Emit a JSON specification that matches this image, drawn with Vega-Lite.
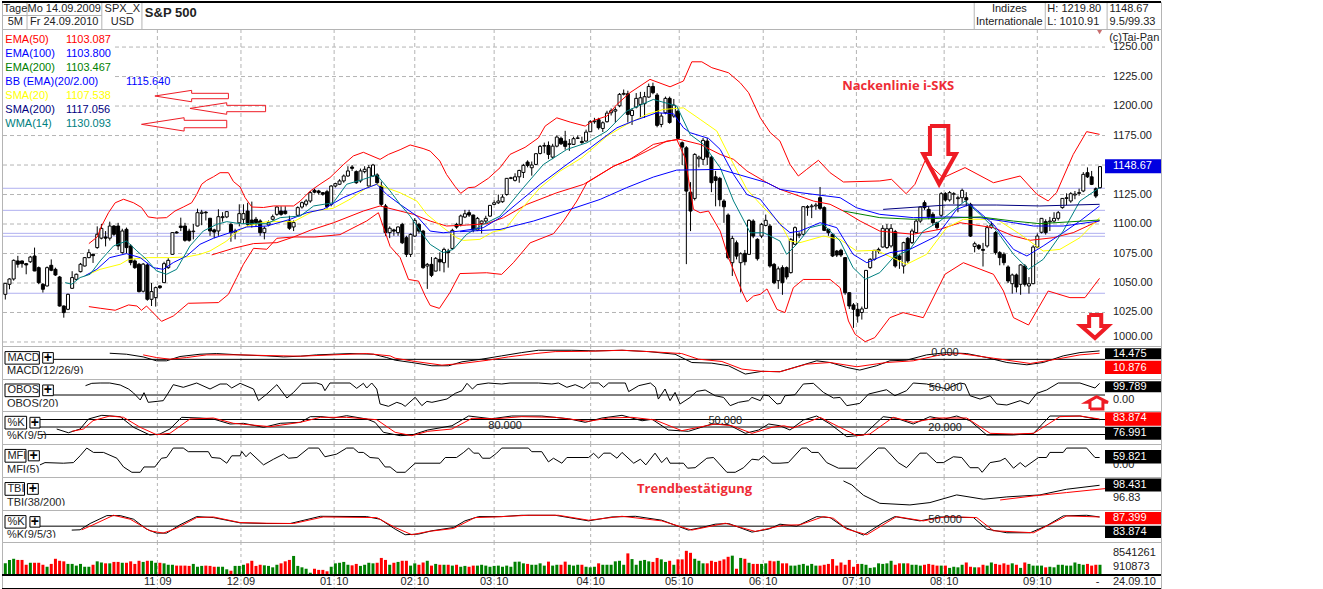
{
"$schema":"https://vega.github.io/schema/vega-lite/v6.json",
"background":"white",
"padding":0,
"spacing":0,
"bounds":"flush",
"resolve":{"scale":{"color":"independent","fill":"independent"}},
"config":{"view":{"stroke":"#b4b4b4"},"text":{"font":"Liberation Sans","fontSize":11,"align":"left","baseline":"middle","color":"#222"},"concat":{"spacing":0}},
"datasets":{
"months":[{"i":36.4,"a":"11","b":"09"},{"i":56.4,"a":"12","b":"09"},{"i":78.7,"a":"01","b":"10"},{"i":98,"a":"02","b":"10"},{"i":117,"a":"03","b":"10"},{"i":140.1,"a":"04","b":"10"},{"i":161.3,"a":"05","b":"10"},{"i":181.4,"a":"06","b":"10"},{"i":203.7,"a":"07","b":"10"},{"i":224.7,"a":"08","b":"10"},{"i":247,"a":"09","b":"10"}],
"c":[
{"i":0,"o":1040.4,"h":1050,"l":1036,"c":1049.7,"m":4.1},{"i":1,"o":1048.9,"h":1054,"l":1044.7,"c":1053.4,"m":5.3},{"i":2,"o":1053.4,"h":1070,"l":1052,"c":1069.2,"m":5.7},{"i":3,"o":1068.7,"h":1073,"l":1063,"c":1065.9,"m":5.3},{"i":4,"o":1068.7,"h":1069,"l":1063,"c":1066.4,"m":5.3},{"i":5,"o":1066.4,"h":1067,"l":1057.4,"c":1065.3,"m":3.6},{"i":6,"o":1068,"h":1073,"l":1067,"c":1072,"m":4.3},{"i":7,"o":1072.9,"h":1080,"l":1060,"c":1060.2,"m":4.3},{"i":8,"o":1063,"h":1064,"l":1049,"c":1050.3,"m":4.3},{"i":9,"o":1048.9,"h":1050,"l":1041.9,"c":1044.7,"m":3.6},
{"i":10,"o":1047.5,"h":1064,"l":1047,"c":1063,"m":2.9},{"i":11,"o":1065,"h":1070,"l":1060,"c":1060.8,"m":3.9},{"i":12,"o":1061.6,"h":1063,"l":1056,"c":1056.8,"m":5.7},{"i":13,"o":1055.1,"h":1056,"l":1030,"c":1030.5,"m":5},{"i":14,"o":1030.5,"h":1031,"l":1020.6,"c":1024.9,"m":4.8},{"i":15,"o":1027.7,"h":1041,"l":1027,"c":1040.4,"m":3.9},{"i":16,"o":1045.5,"h":1060,"l":1045,"c":1054.6,"m":3.9},{"i":17,"o":1053.1,"h":1058,"l":1052,"c":1057.4,"m":3.3},{"i":18,"o":1059.6,"h":1067,"l":1059,"c":1065.9,"m":3.9},{"i":19,"o":1064.4,"h":1072,"l":1064,"c":1071.5,"m":2.9},
{"i":20,"o":1071.5,"h":1078.6,"l":1071,"c":1075.7,"m":2.9},{"i":21,"o":1074.3,"h":1075,"l":1067,"c":1073.2,"m":3.6},{"i":22,"o":1080,"h":1098,"l":1079,"c":1091.3,"m":4.8},{"i":23,"o":1088,"h":1100,"l":1087,"c":1096.3,"m":4.4},{"i":24,"o":1089,"h":1094,"l":1081,"c":1088,"m":4.1},{"i":25,"o":1088,"h":1102,"l":1086,"c":1098.3,"m":4.1},{"i":26,"o":1098.3,"h":1099,"l":1090,"c":1091.3,"m":4.6},{"i":27,"o":1098.3,"h":1101,"l":1078,"c":1081.4,"m":4.6},{"i":28,"o":1075.7,"h":1096,"l":1075,"c":1094.1,"m":4.3},{"i":29,"o":1095.5,"h":1097,"l":1075,"c":1080,"m":4.3},
{"i":30,"o":1081.4,"h":1083,"l":1065,"c":1067.3,"m":4.8},{"i":31,"o":1068.7,"h":1070,"l":1062,"c":1063,"m":3.9},{"i":32,"o":1065.9,"h":1067,"l":1042,"c":1042.7,"m":5},{"i":33,"o":1043,"h":1067,"l":1042,"c":1066,"m":4.6},{"i":34,"o":1065.3,"h":1067,"l":1035,"c":1036.2,"m":5},{"i":35,"o":1036.2,"h":1050,"l":1030.5,"c":1042.7,"m":5},{"i":36,"o":1037.6,"h":1047,"l":1030,"c":1046.1,"m":4.3},{"i":37,"o":1047.5,"h":1048,"l":1045,"c":1046.1,"m":4.3},{"i":38,"o":1050.3,"h":1068,"l":1050,"c":1066.4,"m":4.1},{"i":39,"o":1063,"h":1071,"l":1062,"c":1069.2,"m":3.6},
{"i":40,"o":1074.3,"h":1093,"l":1074,"c":1092.7,"m":3.6},{"i":41,"o":1093.2,"h":1094,"l":1092,"c":1092.4,"m":3.3},{"i":42,"o":1098.3,"h":1105.4,"l":1094,"c":1097,"m":3.3},{"i":43,"o":1098.3,"h":1101,"l":1085,"c":1086.2,"m":3.3},{"i":44,"o":1094,"h":1096,"l":1085,"c":1086.2,"m":3.2},{"i":45,"o":1093.5,"h":1100,"l":1087,"c":1094,"m":3.9},{"i":46,"o":1098.3,"h":1113,"l":1098,"c":1109.6,"m":2.9},{"i":47,"o":1109,"h":1112,"l":1099,"c":1110,"m":3.2},{"i":48,"o":1110,"h":1111,"l":1103,"c":1109.5,"m":3.3},{"i":49,"o":1104.9,"h":1105,"l":1090,"c":1094.1,"m":3.2},
{"i":50,"o":1095,"h":1096,"l":1088,"c":1093.2,"m":2.9},{"i":51,"o":1094.1,"h":1112.5,"l":1090,"c":1106.2,"m":2.9},{"i":52,"o":1105.4,"h":1110,"l":1102,"c":1106.2,"m":2.9},{"i":53,"o":1106,"h":1111,"l":1105,"c":1110.5,"m":2},{"i":54,"o":1099.7,"h":1101,"l":1085,"c":1092.7,"m":1.5},{"i":55,"o":1093,"h":1096,"l":1087,"c":1094,"m":3.2},{"i":56,"o":1101,"h":1116.7,"l":1098,"c":1108.8,"m":3.2},{"i":57,"o":1104,"h":1116.7,"l":1100,"c":1108.8,"m":3.6},{"i":58,"o":1111,"h":1118,"l":1098,"c":1099.7,"m":4.1},{"i":59,"o":1103.4,"h":1119,"l":1097,"c":1099.7,"m":5},
{"i":60,"o":1104,"h":1106,"l":1098,"c":1101.2,"m":3.2},{"i":61,"o":1102.6,"h":1104,"l":1090,"c":1092.7,"m":3.6},{"i":62,"o":1092.7,"h":1098,"l":1087,"c":1096.4,"m":3.4},{"i":63,"o":1099.2,"h":1103,"l":1098,"c":1101.2,"m":3.2},{"i":64,"o":1104,"h":1108,"l":1103,"c":1106.2,"m":2.7},{"i":65,"o":1108.2,"h":1115,"l":1107,"c":1114.4,"m":3.6},{"i":66,"o":1111,"h":1115,"l":1107,"c":1108.2,"m":4.1},{"i":67,"o":1111,"h":1115,"l":1108,"c":1108.8,"m":4.8},{"i":68,"o":1102.6,"h":1107,"l":1095,"c":1096.4,"m":5.3},{"i":69,"o":1097.5,"h":1103,"l":1094,"c":1101.2,"m":6.7},
{"i":70,"o":1107.4,"h":1115,"l":1106,"c":1113.9,"m":3.2},{"i":71,"o":1114.4,"h":1119,"l":1113,"c":1118.1,"m":2.7},{"i":72,"o":1116.7,"h":1121,"l":1115,"c":1119.5,"m":2.2},{"i":73,"o":1119.5,"h":1128,"l":1118,"c":1126.6,"m":0.8},{"i":74,"o":1128.6,"h":1130,"l":1126,"c":1127,"m":2.2},{"i":75,"o":1128,"h":1129,"l":1125,"c":1126.6,"m":1.8},{"i":76,"o":1126.6,"h":1127,"l":1124,"c":1125.2,"m":1.8},{"i":77,"o":1127.4,"h":1129,"l":1113,"c":1114.7,"m":1.3},{"i":78,"o":1116.7,"h":1133,"l":1115,"c":1132.2,"m":2.9},{"i":79,"o":1132.2,"h":1135,"l":1131,"c":1134.2,"m":4.1},
{"i":80,"o":1133.7,"h":1138,"l":1133,"c":1136.5,"m":4.3},{"i":81,"o":1136.5,"h":1142,"l":1135,"c":1140.7,"m":4.6},{"i":82,"o":1140.7,"h":1149,"l":1140,"c":1145,"m":3.6},{"i":83,"o":1148.3,"h":1150,"l":1145,"c":1147.2,"m":3.4},{"i":84,"o":1144.4,"h":1145.5,"l":1134,"c":1135,"m":3.9},{"i":85,"o":1136.5,"h":1147,"l":1135,"c":1145,"m":3.2},{"i":86,"o":1144.4,"h":1149,"l":1143,"c":1146.4,"m":3.6},{"i":87,"o":1132.2,"h":1150,"l":1131,"c":1147.8,"m":4.3},{"i":88,"o":1140.7,"h":1151,"l":1140,"c":1150,"m":4.1},{"i":89,"o":1141.6,"h":1143,"l":1134,"c":1135,"m":4.3},
{"i":90,"o":1132.2,"h":1136,"l":1115,"c":1116.7,"m":6},{"i":91,"o":1115.3,"h":1117,"l":1090,"c":1092.7,"m":5.3},{"i":92,"o":1092.7,"h":1098,"l":1088,"c":1096.4,"m":3.6},{"i":93,"o":1095,"h":1096,"l":1090,"c":1094,"m":4.3},{"i":94,"o":1092.7,"h":1098,"l":1090,"c":1097.5,"m":4.6},{"i":95,"o":1099.7,"h":1101,"l":1083,"c":1084.1,"m":5},{"i":96,"o":1088.4,"h":1090,"l":1072,"c":1074.3,"m":5},{"i":97,"o":1074.3,"h":1092,"l":1072,"c":1091.2,"m":3.3},{"i":98,"o":1089.8,"h":1105,"l":1089,"c":1103.1,"m":4.1},{"i":99,"o":1099.7,"h":1101,"l":1092,"c":1094,"m":3.6},
{"i":100,"o":1094,"h":1095,"l":1062,"c":1063,"m":4.4},{"i":101,"o":1064.4,"h":1067,"l":1045,"c":1065.8,"m":5},{"i":102,"o":1065.8,"h":1072,"l":1055,"c":1056.5,"m":3.3},{"i":103,"o":1060.1,"h":1072,"l":1060,"c":1070.9,"m":3.9},{"i":104,"o":1070,"h":1076,"l":1060,"c":1067.8,"m":3.6},{"i":105,"o":1067.2,"h":1080,"l":1059,"c":1078.5,"m":3.6},{"i":106,"o":1077,"h":1079,"l":1063,"c":1075.7,"m":3.6},{"i":107,"o":1079.3,"h":1096,"l":1078,"c":1094.6,"m":3.3},{"i":108,"o":1099.7,"h":1101,"l":1096,"c":1097.4,"m":3.6},{"i":109,"o":1099.7,"h":1108,"l":1098,"c":1106.8,"m":2.9},
{"i":110,"o":1105.9,"h":1112,"l":1105,"c":1108.7,"m":3.2},{"i":111,"o":1109.6,"h":1112,"l":1106,"c":1107.6,"m":2.9},{"i":112,"o":1107.6,"h":1108,"l":1093,"c":1094.9,"m":3.3},{"i":113,"o":1094.9,"h":1106,"l":1094,"c":1104.8,"m":3.3},{"i":114,"o":1100.5,"h":1103,"l":1092,"c":1102.5,"m":3.6},{"i":115,"o":1102.5,"h":1107,"l":1100,"c":1104.8,"m":3.3},{"i":116,"o":1106.7,"h":1116,"l":1106,"c":1115.8,"m":2.9},{"i":117,"o":1116.6,"h":1120,"l":1116,"c":1118,"m":3.2},{"i":118,"o":1118,"h":1125,"l":1117,"c":1119.5,"m":3.3},{"i":119,"o":1118.9,"h":1125,"l":1118,"c":1122.8,"m":2.9},
{"i":120,"o":1125,"h":1139,"l":1124,"c":1138.7,"m":3.3},{"i":121,"o":1138.7,"h":1140,"l":1138,"c":1139.2,"m":2.9},{"i":122,"o":1137,"h":1143,"l":1136,"c":1140,"m":4.7},{"i":123,"o":1140,"h":1146,"l":1135,"c":1145.4,"m":4.7},{"i":124,"o":1143.7,"h":1151,"l":1139,"c":1149.7,"m":4.1},{"i":125,"o":1152.5,"h":1154,"l":1148,"c":1149.7,"m":3.9},{"i":126,"o":1147.7,"h":1153,"l":1141,"c":1150,"m":3.6},{"i":127,"o":1150.5,"h":1160,"l":1150,"c":1159.6,"m":3.6},{"i":128,"o":1159.8,"h":1167,"l":1159,"c":1165.8,"m":4.1},{"i":129,"o":1166,"h":1169,"l":1160,"c":1166.6,"m":3.3},
{"i":130,"o":1166.6,"h":1170,"l":1155,"c":1159,"m":4.7},{"i":131,"o":1156.7,"h":1168,"l":1155,"c":1166,"m":3.3},{"i":132,"o":1166,"h":1175,"l":1165,"c":1173.7,"m":3.6},{"i":133,"o":1172.6,"h":1174,"l":1167,"c":1168,"m":3.6},{"i":134,"o":1170.3,"h":1179,"l":1163,"c":1165.8,"m":4.7},{"i":135,"o":1167.5,"h":1172,"l":1162,"c":1168,"m":3.6},{"i":136,"o":1167.5,"h":1174,"l":1167,"c":1172.3,"m":3.3},{"i":137,"o":1172.6,"h":1175,"l":1172,"c":1173,"m":3.6},{"i":138,"o":1170,"h":1174,"l":1168,"c":1169,"m":3.6},{"i":139,"o":1170.3,"h":1180,"l":1170,"c":1177.9,"m":2.9},
{"i":140,"o":1178.2,"h":1188,"l":1178,"c":1186.7,"m":2.7},{"i":141,"o":1186.7,"h":1190,"l":1185,"c":1187.3,"m":2.9},{"i":142,"o":1188.4,"h":1190,"l":1180,"c":1181.6,"m":4.1},{"i":143,"o":1181,"h":1187,"l":1178,"c":1185.8,"m":3.6},{"i":144,"o":1186.7,"h":1196,"l":1186,"c":1194,"m":3.6},{"i":145,"o":1194.3,"h":1198,"l":1192,"c":1196,"m":3.6},{"i":146,"o":1195.7,"h":1199,"l":1186,"c":1196.9,"m":4.8},{"i":147,"o":1200.2,"h":1211,"l":1199,"c":1209.9,"m":5},{"i":148,"o":1210,"h":1214,"l":1209,"c":1210.7,"m":3.6},{"i":149,"o":1210.4,"h":1213,"l":1186,"c":1192.9,"m":7.6},
{"i":150,"o":1192,"h":1198,"l":1184,"c":1196.3,"m":5.6},{"i":151,"o":1199.1,"h":1211,"l":1198,"c":1206.5,"m":3.6},{"i":152,"o":1201.4,"h":1212,"l":1190,"c":1207,"m":5},{"i":153,"o":1202,"h":1212,"l":1190,"c":1207.9,"m":5.3},{"i":154,"o":1207.6,"h":1219,"l":1207,"c":1216.6,"m":4.8},{"i":155,"o":1216.6,"h":1219.8,"l":1210,"c":1211.3,"m":4.6},{"i":156,"o":1209.3,"h":1211,"l":1182,"c":1183.6,"m":6},{"i":157,"o":1184.4,"h":1194,"l":1182,"c":1191.5,"m":5.5},{"i":158,"o":1194.3,"h":1208,"l":1193,"c":1206.5,"m":4.6},{"i":159,"o":1206.5,"h":1208,"l":1185,"c":1186.1,"m":5},
{"i":160,"o":1191.5,"h":1206,"l":1190,"c":1200.8,"m":3.6},{"i":161,"o":1195.7,"h":1197,"l":1172,"c":1172.6,"m":5.5},{"i":162,"o":1168.9,"h":1170,"l":1150,"c":1165.2,"m":5.5},{"i":163,"o":1164.6,"h":1166,"l":1066,"c":1127.9,"m":8.5},{"i":164,"o":1127,"h":1135.5,"l":1094,"c":1111,"m":7.8},{"i":165,"o":1121.7,"h":1160,"l":1120,"c":1159,"m":5.7},{"i":166,"o":1155.3,"h":1158,"l":1148,"c":1156.7,"m":5},{"i":167,"o":1154.8,"h":1173,"l":1150,"c":1170.9,"m":4.1},{"i":168,"o":1170.3,"h":1173,"l":1150,"c":1156.7,"m":4.1},{"i":169,"o":1156.7,"h":1158,"l":1127,"c":1135,"m":5},
{"i":170,"o":1140,"h":1145,"l":1115,"c":1137,"m":4.6},{"i":171,"o":1138.7,"h":1140,"l":1115,"c":1120.6,"m":5},{"i":172,"o":1119.5,"h":1121,"l":1101,"c":1114.6,"m":5.5},{"i":173,"o":1107.6,"h":1109,"l":1070,"c":1071.4,"m":6.4},{"i":174,"o":1067.2,"h":1090,"l":1056,"c":1087.8,"m":6.8},{"i":175,"o":1084.1,"h":1086,"l":1070,"c":1072.8,"m":2.2},{"i":176,"o":1067.2,"h":1076,"l":1042,"c":1074.8,"m":6},{"i":177,"o":1075.1,"h":1078,"l":1065,"c":1068,"m":5.7},{"i":178,"o":1074.3,"h":1104,"l":1074,"c":1103.1,"m":4.3},{"i":179,"o":1102.5,"h":1104,"l":1088,"c":1089.8,"m":3.9},
{"i":180,"o":1087,"h":1088,"l":1069,"c":1070.6,"m":3.9},{"i":181,"o":1089.8,"h":1101,"l":1088,"c":1099.7,"m":3.9},{"i":182,"o":1098.8,"h":1108,"l":1098,"c":1103.1,"m":4.1},{"i":183,"o":1098.3,"h":1100,"l":1063,"c":1064.4,"m":5},{"i":184,"o":1065.8,"h":1067,"l":1049,"c":1050.2,"m":4.8},{"i":185,"o":1052,"h":1064,"l":1045,"c":1062,"m":5},{"i":186,"o":1063,"h":1065,"l":1040,"c":1050.3,"m":4.1},{"i":187,"o":1063,"h":1064,"l":1053,"c":1055.1,"m":4.1},{"i":188,"o":1058.8,"h":1088,"l":1058,"c":1087,"m":3.3},{"i":189,"o":1082.8,"h":1098,"l":1082,"c":1096.9,"m":3.3},
{"i":190,"o":1090.4,"h":1093,"l":1088,"c":1091.3,"m":3.6},{"i":191,"o":1091.3,"h":1115,"l":1090,"c":1114.7,"m":3.9},{"i":192,"o":1113.9,"h":1116,"l":1107,"c":1114.7,"m":3.3},{"i":193,"o":1114.6,"h":1117,"l":1105,"c":1115.3,"m":3.9},{"i":194,"o":1115.3,"h":1118,"l":1112,"c":1116.1,"m":3.3},{"i":195,"o":1122.3,"h":1131.4,"l":1112,"c":1113.3,"m":3.3},{"i":196,"o":1113.9,"h":1115,"l":1094,"c":1094.6,"m":3.6},{"i":197,"o":1095.5,"h":1096,"l":1090,"c":1092.7,"m":3.9},{"i":198,"o":1091.3,"h":1092,"l":1072,"c":1072.9,"m":5.6},{"i":199,"o":1077.1,"h":1078,"l":1072,"c":1073.7,"m":3.3},
{"i":200,"o":1077.7,"h":1079,"l":1072,"c":1073.7,"m":4.4},{"i":201,"o":1071.5,"h":1072,"l":1040,"c":1041.8,"m":3.6},{"i":202,"o":1041.8,"h":1042,"l":1028,"c":1030.5,"m":5.3},{"i":203,"o":1031.4,"h":1033,"l":1012,"c":1027.7,"m":2.9},{"i":204,"o":1027.7,"h":1033,"l":1016.4,"c":1022,"m":3.9},{"i":205,"o":1025,"h":1030,"l":1019,"c":1028,"m":3.9},{"i":206,"o":1028.5,"h":1061,"l":1028,"c":1060.7,"m":3.6},{"i":207,"o":1063,"h":1071,"l":1062,"c":1070.1,"m":2.5},{"i":208,"o":1070.1,"h":1078,"l":1069,"c":1077.7,"m":2.7},{"i":209,"o":1077.1,"h":1080,"l":1075,"c":1078.5,"m":4.1},
{"i":210,"o":1080.5,"h":1099,"l":1080,"c":1096.3,"m":3.9},{"i":211,"o":1080,"h":1100,"l":1079,"c":1096,"m":4.1},{"i":212,"o":1081.4,"h":1100,"l":1080,"c":1096.3,"m":5},{"i":213,"o":1093.5,"h":1095,"l":1063,"c":1064.4,"m":3.6},{"i":214,"o":1072.9,"h":1074,"l":1062,"c":1070,"m":4.1},{"i":215,"o":1064.4,"h":1085,"l":1058,"c":1084.2,"m":4.1},{"i":216,"o":1087.9,"h":1089,"l":1067,"c":1068.7,"m":4.1},{"i":217,"o":1084.2,"h":1096,"l":1083,"c":1094.1,"m":3.6},{"i":218,"o":1092.7,"h":1104,"l":1092,"c":1102.5,"m":3.6},{"i":219,"o":1102.5,"h":1115,"l":1101,"c":1114.4,"m":3.3},
{"i":220,"o":1118.1,"h":1120,"l":1112,"c":1113.9,"m":3.6},{"i":221,"o":1112.4,"h":1115,"l":1104,"c":1106,"m":3.9},{"i":222,"o":1108.2,"h":1110,"l":1099,"c":1101.1,"m":3.6},{"i":223,"o":1101.1,"h":1102,"l":1095,"c":1096.9,"m":3.3},{"i":224,"o":1107.4,"h":1127,"l":1106,"c":1125.7,"m":3.3},{"i":225,"o":1125.7,"h":1127,"l":1119,"c":1120.4,"m":3.3},{"i":226,"o":1120.4,"h":1128,"l":1119,"c":1126.6,"m":2.5},{"i":227,"o":1125.2,"h":1127,"l":1117,"c":1125.7,"m":2.9},{"i":228,"o":1121.5,"h":1124,"l":1110,"c":1122.3,"m":2.7},{"i":229,"o":1122.3,"h":1130,"l":1118,"c":1128.5,"m":3.6},
{"i":230,"o":1122.3,"h":1127,"l":1115,"c":1120.4,"m":4.4},{"i":231,"o":1116.7,"h":1118,"l":1089,"c":1089.8,"m":2.9},{"i":232,"o":1081,"h":1085,"l":1076,"c":1083.3,"m":2.7},{"i":233,"o":1081.9,"h":1083,"l":1078,"c":1079.4,"m":2.7},{"i":234,"o":1078.5,"h":1084,"l":1064,"c":1077.7,"m":3.6},{"i":235,"o":1081.4,"h":1099,"l":1080,"c":1096.9,"m":3.3},{"i":236,"o":1097,"h":1102,"l":1096,"c":1099.2,"m":4.4},{"i":237,"o":1092.7,"h":1094,"l":1074,"c":1075.7,"m":3.9},{"i":238,"o":1075.7,"h":1077,"l":1065,"c":1071.5,"m":3.6},{"i":239,"o":1074.3,"h":1076,"l":1065,"c":1067.2,"m":4.1},
{"i":240,"o":1063.6,"h":1065,"l":1050,"c":1051.7,"m":3.6},{"i":241,"o":1049.4,"h":1058,"l":1041,"c":1056.8,"m":4.1},{"i":242,"o":1056.8,"h":1058,"l":1042,"c":1046.6,"m":3.6},{"i":243,"o":1048.9,"h":1066,"l":1040,"c":1065.3,"m":2.5},{"i":244,"o":1064.4,"h":1066,"l":1047,"c":1048.9,"m":4.4},{"i":245,"o":1047.5,"h":1055,"l":1041,"c":1049.4,"m":3.9},{"i":246,"o":1049.4,"h":1082,"l":1049,"c":1080.5,"m":3.3},{"i":247,"o":1080.5,"h":1092,"l":1080,"c":1089.8,"m":3.3},{"i":248,"o":1093,"h":1105,"l":1092,"c":1104.8,"m":3.3},{"i":249,"o":1102,"h":1104,"l":1091,"c":1092.7,"m":2.7},
{"i":250,"o":1101.8,"h":1106,"l":1094,"c":1102.5,"m":2.9},{"i":251,"o":1102.5,"h":1110,"l":1101,"c":1104.8,"m":2.7},{"i":252,"o":1104.8,"h":1111,"l":1103,"c":1109.6,"m":3.6},{"i":253,"o":1113.9,"h":1122,"l":1113,"c":1121.7,"m":3.6},{"i":254,"o":1121.7,"h":1126,"l":1116,"c":1122.3,"m":3.3},{"i":255,"o":1119.5,"h":1127,"l":1118,"c":1125.7,"m":3.3},{"i":256,"o":1124.6,"h":1128,"l":1121,"c":1125.4,"m":4.4},{"i":257,"o":1126,"h":1130,"l":1124,"c":1126.6,"m":3.9},{"i":258,"o":1128,"h":1144,"l":1127,"c":1142.1,"m":3.6},{"i":259,"o":1143.5,"h":1148,"l":1139,"c":1140,"m":3.9},
{"i":260,"o":1140,"h":1145,"l":1133,"c":1133.6,"m":3.3},{"i":261,"o":1129.9,"h":1131,"l":1122,"c":1123.7,"m":3.6},{"i":262,"o":1130.8,"h":1149,"l":1130,"c":1148.67,"m":3.6}
],
"pl":[
{"s":"u","i":20,"v":1083.4},{"s":"u","i":22,"v":1089},{"s":"u","i":23,"v":1098},{"s":"u","i":24.7,"v":1109.6},{"s":"u","i":26.3,"v":1118},{"s":"u","i":28.3,"v":1121},{"s":"u","i":30.7,"v":1118},{"s":"u","i":32.6,"v":1114},{"s":"u","i":34.2,"v":1106},{"s":"u","i":36.2,"v":1105},{"s":"u","i":38.6,"v":1105.4},{"s":"u","i":40.6,"v":1111},{"s":"u","i":42.6,"v":1114.4},{"s":"u","i":44.6,"v":1118},{"s":"u","i":45.8,"v":1125},{"s":"u","i":47,"v":1133.7},{"s":"u","i":48.2,"v":1137},{"s":"u","i":49.8,"v":1140},{"s":"u","i":51.4,"v":1143.5},{"s":"u","i":53.4,"v":1143.5},{"s":"u","i":54.6,"v":1136},{"s":"u","i":56.2,"v":1131.4},{"s":"u","i":57.4,"v":1122.3},{"s":"u","i":59,"v":1114.4},{"s":"u","i":61.8,"v":1114},{"s":"u","i":64.2,"v":1115.3},{"s":"u","i":69,"v":1115.3},{"s":"u","i":70.6,"v":1119.5},{"s":"u","i":73,"v":1128},{"s":"u","i":75.3,"v":1133.7},{"s":"u","i":77.7,"v":1139.3},{"s":"u","i":81,"v":1150.6},{"s":"u","i":83.3,"v":1157.7},{"s":"u","i":85.7,"v":1160.8},{"s":"u","i":89.7,"v":1154.8},{"s":"u","i":91.7,"v":1159},{"s":"u","i":94.5,"v":1163},{"s":"u","i":96.9,"v":1167},{"s":"u","i":100,"v":1164},{"s":"u","i":101.7,"v":1161.8},{"s":"u","i":104,"v":1153.4},{"s":"u","i":105.6,"v":1142},{"s":"u","i":107.6,"v":1132},{"s":"u","i":109,"v":1126},{"s":"u","i":110.8,"v":1130.8},{"s":"u","i":112.4,"v":1131.3},{"s":"u","i":115.6,"v":1138.7},{"s":"u","i":118.4,"v":1147.7},{"s":"u","i":120.8,"v":1159},{"s":"u","i":124.4,"v":1165},{"s":"u","i":127.6,"v":1173},{"s":"u","i":129.2,"v":1183},{"s":"u","i":132,"v":1190},{"s":"u","i":135.2,"v":1186.4},{"s":"u","i":138.8,"v":1183},{"s":"u","i":140.8,"v":1187.8},{"s":"u","i":144,"v":1191.5},{"s":"u","i":146.4,"v":1201.4},{"s":"u","i":149.5,"v":1211.3},{"s":"u","i":154.3,"v":1222.6},{"s":"u","i":159.1,"v":1216.3},{"s":"u","i":162.3,"v":1221.2},{"s":"u","i":164.3,"v":1237.5},{"s":"u","i":166.7,"v":1237.5},{"s":"u","i":169.1,"v":1232.5},{"s":"u","i":173.1,"v":1228.2},{"s":"u","i":175.9,"v":1219.7},{"s":"u","i":177.9,"v":1211.3},{"s":"u","i":180.7,"v":1190},{"s":"u","i":183.1,"v":1177.4},{"s":"u","i":185.4,"v":1170.3},{"s":"u","i":187.8,"v":1150.6},{"s":"u","i":189.8,"v":1140.7},{"s":"u","i":191.8,"v":1146.3},{"s":"u","i":194.6,"v":1154},{"s":"u","i":197.4,"v":1143.5},{"s":"u","i":200.6,"v":1135.6},{"s":"u","i":209.3,"v":1136.5},{"s":"u","i":212.1,"v":1137.9},{"s":"u","i":215.6,"v":1125.7},{"s":"u","i":217.7,"v":1133.6},{"s":"u","i":220.1,"v":1153.4},{"s":"u","i":224.5,"v":1139.3},{"s":"u","i":229.7,"v":1147.8},{"s":"u","i":236.5,"v":1135},{"s":"u","i":242.9,"v":1140.7},{"s":"u","i":246.9,"v":1125.2},{"s":"u","i":249.6,"v":1119.5},{"s":"u","i":251.6,"v":1126.6},{"s":"u","i":255.6,"v":1159},{"s":"u","i":258.8,"v":1178.3},{"s":"u","i":261.9,"v":1176},
{"s":"l","i":20,"v":1030},{"s":"l","i":22.7,"v":1028.6},{"s":"l","i":26.3,"v":1026.9},{"s":"l","i":29.5,"v":1031.4},{"s":"l","i":31.5,"v":1030.5},{"s":"l","i":32.6,"v":1026.9},{"s":"l","i":33.8,"v":1030.5},{"s":"l","i":37.4,"v":1017.5},{"s":"l","i":40.2,"v":1022},{"s":"l","i":43.8,"v":1032.8},{"s":"l","i":51,"v":1033.4},{"s":"l","i":53.4,"v":1040.4},{"s":"l","i":55.4,"v":1054.6},{"s":"l","i":57,"v":1065.9},{"s":"l","i":59.4,"v":1079.4},{"s":"l","i":62.6,"v":1078.6},{"s":"l","i":65,"v":1087.9},{"s":"l","i":69,"v":1089},{"s":"l","i":74.1,"v":1089},{"s":"l","i":80.1,"v":1091},{"s":"l","i":86.5,"v":1102.6},{"s":"l","i":89.3,"v":1109.6},{"s":"l","i":92.1,"v":1081},{"s":"l","i":94.5,"v":1071.5},{"s":"l","i":96.5,"v":1053},{"s":"l","i":98.9,"v":1051.6},{"s":"l","i":100.5,"v":1039},{"s":"l","i":101.7,"v":1031},{"s":"l","i":103.9,"v":1028.5},{"s":"l","i":106.4,"v":1041.8},{"s":"l","i":108.8,"v":1058},{"s":"l","i":115.2,"v":1058.7},{"s":"l","i":118.8,"v":1057.3},{"s":"l","i":121.6,"v":1067.2},{"s":"l","i":125.6,"v":1084},{"s":"l","i":131.2,"v":1091.8},{"s":"l","i":133.6,"v":1102.5},{"s":"l","i":136.8,"v":1119.5},{"s":"l","i":139.2,"v":1135},{"s":"l","i":145.6,"v":1149},{"s":"l","i":149.5,"v":1154.8},{"s":"l","i":155.1,"v":1167.5},{"s":"l","i":160.7,"v":1171.7},{"s":"l","i":162.7,"v":1156},{"s":"l","i":164.7,"v":1112.4},{"s":"l","i":166.3,"v":1109.6},{"s":"l","i":168.3,"v":1111},{"s":"l","i":171.1,"v":1094},{"s":"l","i":173.1,"v":1071.4},{"s":"l","i":176.3,"v":1043},{"s":"l","i":177.5,"v":1034},{"s":"l","i":179.1,"v":1039},{"s":"l","i":180.7,"v":1040.4},{"s":"l","i":182.3,"v":1045},{"s":"l","i":184.7,"v":1027.6},{"s":"l","i":186.6,"v":1024.9},{"s":"l","i":188.6,"v":1046},{"s":"l","i":191,"v":1053},{"s":"l","i":197.4,"v":1053},{"s":"l","i":199.8,"v":1046},{"s":"l","i":201.8,"v":1017.8},{"s":"l","i":203.4,"v":1006.5},{"s":"l","i":205.8,"v":1000.3},{"s":"l","i":208.1,"v":1003.7},{"s":"l","i":211.7,"v":1020.6},{"s":"l","i":214.9,"v":1024.9},{"s":"l","i":219.7,"v":1020.6},{"s":"l","i":224.9,"v":1057.4},{"s":"l","i":229.3,"v":1067.2},{"s":"l","i":236.5,"v":1057.4},{"s":"l","i":238.9,"v":1043.2},{"s":"l","i":241.3,"v":1020.6},{"s":"l","i":244.9,"v":1014.4},{"s":"l","i":249.6,"v":1043.2},{"s":"l","i":254.8,"v":1037.6},{"s":"l","i":258.4,"v":1037.6},{"s":"l","i":261.9,"v":1054},
{"s":"m","i":49.4,"v":1073.8},{"s":"m","i":54.6,"v":1079.4},{"s":"m","i":59.4,"v":1083.4},{"s":"m","i":65,"v":1084.2},{"s":"m","i":69,"v":1089},{"s":"m","i":73,"v":1094.7},{"s":"m","i":78.5,"v":1101},{"s":"m","i":85.7,"v":1111},{"s":"m","i":89.7,"v":1115.3},{"s":"m","i":94.5,"v":1111},{"s":"m","i":97.7,"v":1108.2},{"s":"m","i":101.7,"v":1102.5},{"s":"m","i":105.6,"v":1098.3},{"s":"m","i":110.4,"v":1099.1},{"s":"m","i":115.2,"v":1100.2},{"s":"m","i":119.2,"v":1105.3},{"s":"m","i":124.8,"v":1116.6},{"s":"m","i":132,"v":1126.5},{"s":"m","i":138.4,"v":1133.6},{"s":"m","i":145.6,"v":1149},{"s":"m","i":150.3,"v":1156},{"s":"m","i":158.3,"v":1170.3},{"s":"m","i":161.5,"v":1171.7},{"s":"m","i":166.3,"v":1167.5},{"s":"m","i":171.1,"v":1159},{"s":"m","i":174.3,"v":1154.8},{"s":"m","i":177.5,"v":1144.9},{"s":"m","i":182.3,"v":1135},{"s":"m","i":185.5,"v":1129.3},{"s":"m","i":193.4,"v":1119.5},{"s":"m","i":197.4,"v":1116.7},{"s":"m","i":200.6,"v":1111},{"s":"m","i":204.6,"v":1102.5},{"s":"m","i":209.3,"v":1094},{"s":"m","i":217.3,"v":1091.3},{"s":"m","i":223.7,"v":1095.5},{"s":"m","i":228.5,"v":1101.1},{"s":"m","i":236.5,"v":1096.9},{"s":"m","i":241.3,"v":1089.8},{"s":"m","i":245.3,"v":1086.2},{"s":"m","i":250.8,"v":1088.4},{"s":"m","i":255.6,"v":1092.7},{"s":"m","i":261.9,"v":1103},
{"s":"y","i":19,"v":1056},{"s":"y","i":22.7,"v":1061.6},{"s":"y","i":27.5,"v":1065.9},{"s":"y","i":29.5,"v":1070},{"s":"y","i":32.3,"v":1070.9},{"s":"y","i":34.2,"v":1071.5},{"s":"y","i":39.4,"v":1071.5},{"s":"y","i":43.4,"v":1072.1},{"s":"y","i":46.6,"v":1074.3},{"s":"y","i":49,"v":1077.2},{"s":"y","i":53,"v":1085.6},{"s":"y","i":54.6,"v":1091.3},{"s":"y","i":57.8,"v":1098.3},{"s":"y","i":62.6,"v":1102},{"s":"y","i":69,"v":1102},{"s":"y","i":73.8,"v":1111},{"s":"y","i":78.5,"v":1113.3},{"s":"y","i":82.5,"v":1121},{"s":"y","i":86.5,"v":1130.8},{"s":"y","i":88.9,"v":1133.7},{"s":"y","i":94.5,"v":1126.5},{"s":"y","i":98.5,"v":1119.5},{"s":"y","i":100.9,"v":1108.2},{"s":"y","i":104.8,"v":1096.9},{"s":"y","i":108,"v":1088.4},{"s":"y","i":109.6,"v":1086.1},{"s":"y","i":113.6,"v":1087},{"s":"y","i":116.8,"v":1093.5},{"s":"y","i":119.6,"v":1095.4},{"s":"y","i":122.4,"v":1108.2},{"s":"y","i":128,"v":1130.8},{"s":"y","i":132.8,"v":1144.9},{"s":"y","i":138,"v":1156.2},{"s":"y","i":144,"v":1174.5},{"s":"y","i":148.7,"v":1184.4},{"s":"y","i":153.5,"v":1192.9},{"s":"y","i":157.5,"v":1197.1},{"s":"y","i":162.3,"v":1198.5},{"s":"y","i":166.3,"v":1188.7},{"s":"y","i":170.3,"v":1178.8},{"s":"y","i":173.5,"v":1156.2},{"s":"y","i":177.5,"v":1129.3},{"s":"y","i":181.5,"v":1113.8},{"s":"y","i":185.4,"v":1101.1},{"s":"y","i":187.8,"v":1085.6},{"s":"y","i":190.2,"v":1084.2},{"s":"y","i":195.8,"v":1089.8},{"s":"y","i":199.8,"v":1087},{"s":"y","i":203.7,"v":1077.1},{"s":"y","i":208.5,"v":1077.7},{"s":"y","i":215.7,"v":1065.8},{"s":"y","i":220.5,"v":1074.3},{"s":"y","i":225.3,"v":1096.9},{"s":"y","i":229.3,"v":1104},{"s":"y","i":237.3,"v":1104},{"s":"y","i":242.9,"v":1091.3},{"s":"y","i":248.4,"v":1077.1},{"s":"y","i":252.4,"v":1078.5},{"s":"y","i":257.2,"v":1088.4},{"s":"y","i":261.9,"v":1105.4},
{"s":"b1","i":19,"v":1056},{"s":"b1","i":21.9,"v":1061.6},{"s":"b1","i":25,"v":1071.5},{"s":"b1","i":29,"v":1074.9},{"s":"b1","i":32.3,"v":1071.5},{"s":"b1","i":35.4,"v":1063},{"s":"b1","i":37.8,"v":1061.6},{"s":"b1","i":40.2,"v":1067.3},{"s":"b1","i":43.4,"v":1072.9},{"s":"b1","i":46.6,"v":1082.8},{"s":"b1","i":49.8,"v":1087.9},{"s":"b1","i":53.8,"v":1092.7},{"s":"b1","i":57.8,"v":1097.5},{"s":"b1","i":62.6,"v":1098.3},{"s":"b1","i":68.2,"v":1104},{"s":"b1","i":72.2,"v":1109.6},{"s":"b1","i":76.1,"v":1112.5},{"s":"b1","i":80.9,"v":1122.4},{"s":"b1","i":85.7,"v":1129.4},{"s":"b1","i":88.9,"v":1133.7},{"s":"b1","i":91.3,"v":1125},{"s":"b1","i":94.5,"v":1116.6},{"s":"b1","i":98.5,"v":1106.7},{"s":"b1","i":101.7,"v":1094},{"s":"b1","i":104.8,"v":1092.6},{"s":"b1","i":108.8,"v":1094},{"s":"b1","i":114.4,"v":1096.9},{"s":"b1","i":118.4,"v":1105.3},{"s":"b1","i":123.2,"v":1119.5},{"s":"b1","i":128,"v":1133.6},{"s":"b1","i":134.4,"v":1150.5},{"s":"b1","i":140,"v":1164.6},{"s":"b1","i":146.4,"v":1181.6},{"s":"b1","i":150.3,"v":1187.3},{"s":"b1","i":155.9,"v":1194.3},{"s":"b1","i":159.9,"v":1193.5},{"s":"b1","i":162.3,"v":1181.6},{"s":"b1","i":163.9,"v":1177.4},{"s":"b1","i":168.3,"v":1172.6},{"s":"b1","i":171.1,"v":1163.2},{"s":"b1","i":174.3,"v":1142},{"s":"b1","i":177.5,"v":1125},{"s":"b1","i":180.7,"v":1120.9},{"s":"b1","i":185.4,"v":1099.7},{"s":"b1","i":187.8,"v":1092.7},{"s":"b1","i":190.2,"v":1094},{"s":"b1","i":195,"v":1101.1},{"s":"b1","i":199,"v":1096.9},{"s":"b1","i":202.9,"v":1074.3},{"s":"b1","i":206.2,"v":1067.2},{"s":"b1","i":211.7,"v":1075.7},{"s":"b1","i":216.5,"v":1078.5},{"s":"b1","i":222.9,"v":1089.8},{"s":"b1","i":227.7,"v":1112.4},{"s":"b1","i":230.9,"v":1116.7},{"s":"b1","i":236.5,"v":1099.7},{"s":"b1","i":241.3,"v":1078.5},{"s":"b1","i":244.5,"v":1072.9},{"s":"b1","i":248.4,"v":1081.4},{"s":"b1","i":253.2,"v":1092.7},{"s":"b1","i":257.2,"v":1102.5},{"s":"b1","i":261.9,"v":1115.3},
{"s":"t","i":14.3,"v":1050.3},{"s":"t","i":15.9,"v":1049},{"s":"t","i":17.9,"v":1054.6},{"s":"t","i":20.3,"v":1057.4},{"s":"t","i":22.7,"v":1068.7},{"s":"t","i":25.9,"v":1081.4},{"s":"t","i":29,"v":1085.6},{"s":"t","i":31.5,"v":1077.2},{"s":"t","i":33.8,"v":1070},{"s":"t","i":36.2,"v":1060.2},{"s":"t","i":38.6,"v":1057.4},{"s":"t","i":41,"v":1061.6},{"s":"t","i":44.2,"v":1081.4},{"s":"t","i":47.4,"v":1094.1},{"s":"t","i":50.6,"v":1099.7},{"s":"t","i":53,"v":1102},{"s":"t","i":56.2,"v":1100.3},{"s":"t","i":62.6,"v":1100.3},{"s":"t","i":65.8,"v":1105.4},{"s":"t","i":70.6,"v":1106.8},{"s":"t","i":73.8,"v":1115.3},{"s":"t","i":78.5,"v":1118},{"s":"t","i":81.7,"v":1133.7},{"s":"t","i":85.7,"v":1137.9},{"s":"t","i":88.9,"v":1141.6},{"s":"t","i":92.1,"v":1128},{"s":"t","i":94.5,"v":1116.6},{"s":"t","i":96.9,"v":1106.7},{"s":"t","i":99.3,"v":1094},{"s":"t","i":101.7,"v":1082.7},{"s":"t","i":104.8,"v":1075.7},{"s":"t","i":107.2,"v":1078.5},{"s":"t","i":110.4,"v":1091.2},{"s":"t","i":114.4,"v":1099.7},{"s":"t","i":118.4,"v":1106.7},{"s":"t","i":124,"v":1130.8},{"s":"t","i":128.8,"v":1150.5},{"s":"t","i":134.4,"v":1163.2},{"s":"t","i":139.2,"v":1168.9},{"s":"t","i":144,"v":1178.8},{"s":"t","i":148.7,"v":1195.7},{"s":"t","i":155.1,"v":1205.6},{"s":"t","i":160.7,"v":1200},{"s":"t","i":163.9,"v":1175.9},{"s":"t","i":167.1,"v":1167.5},{"s":"t","i":171.1,"v":1147.7},{"s":"t","i":174.3,"v":1119.5},{"s":"t","i":178.3,"v":1092.6},{"s":"t","i":181.5,"v":1092.6},{"s":"t","i":185.4,"v":1085.6},{"s":"t","i":187,"v":1074.3},{"s":"t","i":189.4,"v":1082.8},{"s":"t","i":192.6,"v":1096.9},{"s":"t","i":195.8,"v":1099.7},{"s":"t","i":199.8,"v":1085.6},{"s":"t","i":202.9,"v":1063},{"s":"t","i":205.8,"v":1053.1},{"s":"t","i":209.3,"v":1058.8},{"s":"t","i":212.5,"v":1071.5},{"s":"t","i":216.5,"v":1078.5},{"s":"t","i":219.7,"v":1094.1},{"s":"t","i":223.7,"v":1102.5},{"s":"t","i":229.7,"v":1119.5},{"s":"t","i":233.3,"v":1108.2},{"s":"t","i":237.3,"v":1094.1},{"s":"t","i":241.3,"v":1074.3},{"s":"t","i":244.9,"v":1061.6},{"s":"t","i":248.4,"v":1070},{"s":"t","i":253.2,"v":1094.1},{"s":"t","i":257.2,"v":1119.5},{"s":"t","i":261.9,"v":1130.8},
{"s":"b2","i":108.8,"v":1093.5},{"s":"b2","i":118.4,"v":1095.4},{"s":"b2","i":126.4,"v":1102.5},{"s":"b2","i":135.2,"v":1112.4},{"s":"b2","i":142.4,"v":1120.9},{"s":"b2","i":148.7,"v":1130.8},{"s":"b2","i":155.1,"v":1139.8},{"s":"b2","i":160.7,"v":1145.7},{"s":"b2","i":171.1,"v":1146.3},{"s":"b2","i":175.9,"v":1141.5},{"s":"b2","i":182.3,"v":1135},{"s":"b2","i":185.4,"v":1129.4},{"s":"b2","i":190.2,"v":1126.6},{"s":"b2","i":199.8,"v":1122.3},{"s":"b2","i":203.7,"v":1113.8},{"s":"b2","i":209.3,"v":1108.2},{"s":"b2","i":217.3,"v":1105.4},{"s":"b2","i":225.3,"v":1106},{"s":"b2","i":233.3,"v":1105.4},{"s":"b2","i":241.3,"v":1101.1},{"s":"b2","i":246.1,"v":1098.3},{"s":"b2","i":253.2,"v":1098.3},{"s":"b2","i":261.9,"v":1102.6},
{"s":"g","i":200.6,"v":1111},{"s":"g","i":209.3,"v":1105.4},{"s":"g","i":217.3,"v":1104},{"s":"g","i":233.3,"v":1106},{"s":"g","i":241.3,"v":1102.5},{"s":"g","i":247.6,"v":1100.3},{"s":"g","i":261.9,"v":1103.4},
{"s":"n","i":210.1,"v":1112.4},{"s":"n","i":225.3,"v":1116.1},{"s":"n","i":237.3,"v":1116.1},{"s":"n","i":247.6,"v":1115.3},{"s":"n","i":261.9,"v":1116.7}
],
"macd":[
{"s":"k","i":25,"v":11.2},{"s":"k","i":29,"v":9.4},{"s":"k","i":33,"v":4.5},{"s":"k","i":36.2,"v":-2.7},{"s":"k","i":38.6,"v":-2.7},{"s":"k","i":41.8,"v":5.2},{"s":"k","i":46.6,"v":9.4},{"s":"k","i":50.6,"v":10.6},{"s":"k","i":56.2,"v":8.2},{"s":"k","i":62.6,"v":6.4},{"s":"k","i":66.6,"v":4.5},{"s":"k","i":70.6,"v":5.8},{"s":"k","i":74.5,"v":8.2},{"s":"k","i":82.5,"v":10.6},{"s":"k","i":88.1,"v":9.4},{"s":"k","i":91.3,"v":3.3},{"s":"k","i":93.3,"v":-1.5},{"s":"k","i":97.3,"v":-5.8},{"s":"k","i":102.1,"v":-11.8},{"s":"k","i":106.1,"v":-11.8},{"s":"k","i":109.3,"v":-4.5},{"s":"k","i":114,"v":0.3},{"s":"k","i":118.8,"v":6.4},{"s":"k","i":123.6,"v":12.4},{"s":"k","i":127.6,"v":16.7},{"s":"k","i":135.6,"v":16.7},{"s":"k","i":141.2,"v":15.5},{"s":"k","i":147.6,"v":16.7},{"s":"k","i":154,"v":14.2},{"s":"k","i":160.3,"v":9.4},{"s":"k","i":164.3,"v":-5.8},{"s":"k","i":169.1,"v":-7},{"s":"k","i":173.1,"v":-11.8},{"s":"k","i":177.1,"v":-27},{"s":"k","i":181.1,"v":-22},{"s":"k","i":185.4,"v":-22.7},{"s":"k","i":190.2,"v":-11.8},{"s":"k","i":194.2,"v":-2.7},{"s":"k","i":197.4,"v":-5.8},{"s":"k","i":201.4,"v":-14.8},{"s":"k","i":204.5,"v":-19.7},{"s":"k","i":208.5,"v":-11.8},{"s":"k","i":211.7,"v":-2.7},{"s":"k","i":215.7,"v":-1.5},{"s":"k","i":220.5,"v":8.2},{"s":"k","i":225.3,"v":12.4},{"s":"k","i":230.1,"v":10.6},{"s":"k","i":234.9,"v":3.3},{"s":"k","i":239.7,"v":-5.8},{"s":"k","i":244.5,"v":-10},{"s":"k","i":248.4,"v":-5.8},{"s":"k","i":253.2,"v":6.4},{"s":"k","i":257.2,"v":12.4},{"s":"k","i":261.9,"v":15.5},
{"s":"r","i":33,"v":8.2},{"s":"r","i":36.2,"v":3.3},{"s":"r","i":39.4,"v":0.3},{"s":"r","i":43.4,"v":3.3},{"s":"r","i":48.2,"v":8.2},{"s":"r","i":56.2,"v":8.2},{"s":"r","i":62.6,"v":7},{"s":"r","i":70.6,"v":5.8},{"s":"r","i":78.5,"v":8.2},{"s":"r","i":86.5,"v":10.6},{"s":"r","i":92.1,"v":6.4},{"s":"r","i":93.3,"v":2.1},{"s":"r","i":98.1,"v":-3.9},{"s":"r","i":104.5,"v":-10.6},{"s":"r","i":109.3,"v":-7.6},{"s":"r","i":115.6,"v":-1.5},{"s":"r","i":120.4,"v":4.5},{"s":"r","i":126.8,"v":10.6},{"s":"r","i":131.6,"v":14.2},{"s":"r","i":139.6,"v":14.8},{"s":"r","i":147.6,"v":16.7},{"s":"r","i":155.5,"v":13.6},{"s":"r","i":161.9,"v":10.6},{"s":"r","i":165.9,"v":0.3},{"s":"r","i":171.5,"v":-3.9},{"s":"r","i":176.3,"v":-17.9},{"s":"r","i":181.1,"v":-22},{"s":"r","i":185.4,"v":-22.7},{"s":"r","i":191.8,"v":-8.8},{"s":"r","i":197.4,"v":-5.8},{"s":"r","i":203.8,"v":-13.6},{"s":"r","i":210.9,"v":-5.8},{"s":"r","i":217.3,"v":-2.7},{"s":"r","i":223.7,"v":8.2},{"s":"r","i":228.5,"v":10.6},{"s":"r","i":236.5,"v":2.1},{"s":"r","i":245.3,"v":-7.6},{"s":"r","i":251.6,"v":0.3},{"s":"r","i":257.2,"v":8.2},{"s":"r","i":261.9,"v":11.2}
],
"obos":[
{"i":19.2,"v":88.9},{"i":20.7,"v":98.6},{"i":22.7,"v":100},{"i":25,"v":100},{"i":27.5,"v":91.7},{"i":29.5,"v":75},{"i":30.7,"v":58.3},{"i":32.3,"v":29.2},{"i":33.2,"v":59.7},{"i":34.2,"v":19.4},{"i":37.8,"v":26.4},{"i":39,"v":58.3},{"i":40.2,"v":93},{"i":42.6,"v":82},{"i":45.8,"v":100},{"i":49,"v":75},{"i":51.4,"v":95.8},{"i":53,"v":95.8},{"i":54.2,"v":79.2},{"i":56.2,"v":98.6},{"i":59.4,"v":75},{"i":60.6,"v":26.4},{"i":62.6,"v":54.2},{"i":65,"v":93},{"i":67.4,"v":37.5},{"i":69,"v":61},{"i":71,"v":98.6},{"i":74.5,"v":100},{"i":75.8,"v":93},{"i":76.5,"v":68},{"i":77.7,"v":100},{"i":82.5,"v":100},{"i":84.1,"v":77.8},{"i":85.7,"v":98.6},{"i":86.5,"v":79},{"i":87.7,"v":100},{"i":88.9,"v":75},{"i":89.7,"v":12.5},{"i":91.7,"v":2.8},{"i":93.7,"v":19.4},{"i":94.9,"v":12.5},{"i":95.7,"v":2.8},{"i":98.1,"v":40.3},{"i":99.7,"v":5.6},{"i":100.9,"v":23.6},{"i":102.1,"v":19.4},{"i":105.7,"v":33.3},{"i":107.7,"v":57},{"i":109.3,"v":68},{"i":110.5,"v":98.6},{"i":111.8,"v":75},{"i":112.9,"v":93},{"i":115.6,"v":100},{"i":118.8,"v":95.8},{"i":120.8,"v":100},{"i":127.6,"v":100},{"i":130.8,"v":95.8},{"i":132.4,"v":100},{"i":134.4,"v":82},{"i":136.4,"v":93},{"i":138.4,"v":77.8},{"i":140,"v":100},{"i":142,"v":100},{"i":143.2,"v":82},{"i":144.4,"v":100},{"i":148.4,"v":100},{"i":149.2,"v":64},{"i":151.6,"v":88.9},{"i":154.4,"v":100},{"i":155.6,"v":82},{"i":156.3,"v":33},{"i":157.9,"v":75},{"i":159.1,"v":26.4},{"i":160.3,"v":61},{"i":161.5,"v":12.5},{"i":163.9,"v":40},{"i":165.5,"v":65},{"i":167.5,"v":70.8},{"i":169.9,"v":47},{"i":171.9,"v":40},{"i":173.5,"v":5.6},{"i":175.5,"v":19.4},{"i":177.9,"v":26.4},{"i":178.7,"v":40},{"i":180.7,"v":26.4},{"i":181.5,"v":50},{"i":182.7,"v":47},{"i":184.7,"v":12.5},{"i":185.6,"v":15},{"i":186.6,"v":47},{"i":189,"v":51},{"i":191,"v":95.8},{"i":193.4,"v":98.6},{"i":195.8,"v":61},{"i":198.2,"v":37.5},{"i":199.8,"v":40},{"i":201.4,"v":5.6},{"i":204.5,"v":15},{"i":206.6,"v":54},{"i":210.9,"v":72},{"i":212.9,"v":47},{"i":215.7,"v":68},{"i":217.3,"v":100},{"i":220.5,"v":95.8},{"i":225.3,"v":75},{"i":228.5,"v":100},{"i":229.7,"v":95.8},{"i":230.9,"v":47},{"i":233.3,"v":33},{"i":235.7,"v":47},{"i":237.3,"v":12.5},{"i":239.7,"v":8.3},{"i":242.9,"v":26.4},{"i":244.9,"v":12.5},{"i":246.9,"v":57},{"i":249.2,"v":70.8},{"i":252,"v":100},{"i":257.2,"v":100},{"i":260.8,"v":79.2},{"i":261.9,"v":98.6}
],
"stoch":[
{"s":"k","i":12.3,"v":42},{"s":"k","i":15.1,"v":27},{"s":"k","i":17.9,"v":42},{"s":"k","i":19.9,"v":82},{"s":"k","i":23.1,"v":96.7},{"s":"k","i":27.5,"v":91.3},{"s":"k","i":30.7,"v":48.7},{"s":"k","i":34.6,"v":18},{"s":"k","i":37,"v":22},{"s":"k","i":39.4,"v":42},{"s":"k","i":42.2,"v":88.7},{"s":"k","i":46.6,"v":86},{"s":"k","i":49.8,"v":82},{"s":"k","i":53.8,"v":62},{"s":"k","i":57,"v":64.7},{"s":"k","i":61.8,"v":48.7},{"s":"k","i":65.8,"v":64.7},{"s":"k","i":70.6,"v":68.7},{"s":"k","i":73,"v":91.3},{"s":"k","i":75.8,"v":91.3},{"s":"k","i":78.5,"v":86},{"s":"k","i":81.7,"v":95.3},{"s":"k","i":86.5,"v":82},{"s":"k","i":88.5,"v":68.7},{"s":"k","i":90.5,"v":28.7},{"s":"k","i":94.5,"v":15.3},{"s":"k","i":97.3,"v":18},{"s":"k","i":101.1,"v":38},{"s":"k","i":106.9,"v":55},{"s":"k","i":110.9,"v":94},{"s":"k","i":116.4,"v":83},{"s":"k","i":121.2,"v":94},{"s":"k","i":128.4,"v":94},{"s":"k","i":134.8,"v":83},{"s":"k","i":138.8,"v":68.7},{"s":"k","i":142.8,"v":86},{"s":"k","i":147.6,"v":96.7},{"s":"k","i":152.4,"v":75},{"s":"k","i":154.8,"v":80.7},{"s":"k","i":158.7,"v":38},{"s":"k","i":163.5,"v":32.7},{"s":"k","i":169.1,"v":62},{"s":"k","i":173.1,"v":59.3},{"s":"k","i":177.1,"v":24.7},{"s":"k","i":180.3,"v":38},{"s":"k","i":182.7,"v":62},{"s":"k","i":185.4,"v":55},{"s":"k","i":187.8,"v":38},{"s":"k","i":191,"v":78},{"s":"k","i":194.2,"v":94},{"s":"k","i":197.4,"v":62},{"s":"k","i":201.4,"v":11.3},{"s":"k","i":205.4,"v":18},{"s":"k","i":210.1,"v":91.3},{"s":"k","i":213.3,"v":84.7},{"s":"k","i":217.3,"v":62},{"s":"k","i":221.3,"v":91.3},{"s":"k","i":224.5,"v":80.7},{"s":"k","i":227.7,"v":94},{"s":"k","i":230.9,"v":75},{"s":"k","i":234.9,"v":18},{"s":"k","i":241.3,"v":18},{"s":"k","i":246.1,"v":24.7},{"s":"k","i":250,"v":94},{"s":"k","i":257.2,"v":94},{"s":"k","i":261.9,"v":79.3},
{"s":"r","i":15.9,"v":32.7},{"s":"r","i":18.7,"v":42},{"s":"r","i":21,"v":75.3},{"s":"r","i":25,"v":94},{"s":"r","i":28.3,"v":88.7},{"s":"r","i":32.3,"v":48.7},{"s":"r","i":36.2,"v":19.3},{"s":"r","i":39.4,"v":24.7},{"s":"r","i":44.2,"v":82},{"s":"r","i":49.8,"v":86},{"s":"r","i":54.6,"v":64.7},{"s":"r","i":63.4,"v":51.3},{"s":"r","i":70.6,"v":68.7},{"s":"r","i":75.4,"v":88.7},{"s":"r","i":81.7,"v":88.7},{"s":"r","i":88.9,"v":79.3},{"s":"r","i":93.3,"v":28.7},{"s":"r","i":97.3,"v":15.3},{"s":"r","i":101.1,"v":32.7},{"s":"r","i":106.9,"v":42},{"s":"r","i":111.7,"v":84.7},{"s":"r","i":117.2,"v":83},{"s":"r","i":123.6,"v":91.3},{"s":"r","i":131.6,"v":88.7},{"s":"r","i":139.6,"v":72.7},{"s":"r","i":144.4,"v":86},{"s":"r","i":150,"v":88.7},{"s":"r","i":155.5,"v":78},{"s":"r","i":161.9,"v":35.3},{"s":"r","i":169.9,"v":62},{"s":"r","i":173.9,"v":55},{"s":"r","i":178.7,"v":24.7},{"s":"r","i":183.5,"v":48.7},{"s":"r","i":186.3,"v":55},{"s":"r","i":188.6,"v":46},{"s":"r","i":195,"v":88.7},{"s":"r","i":199,"v":55},{"s":"r","i":203.8,"v":15.3},{"s":"r","i":206.9,"v":22},{"s":"r","i":212.5,"v":88.7},{"s":"r","i":217.3,"v":68.7},{"s":"r","i":222.9,"v":86},{"s":"r","i":230.1,"v":86},{"s":"r","i":235.7,"v":24.7},{"s":"r","i":241.3,"v":22},{"s":"r","i":246.1,"v":24.7},{"s":"r","i":252.4,"v":91.3},{"s":"r","i":257.2,"v":94},{"s":"r","i":261.9,"v":82}
],
"mfi":[
{"i":8.3,"v":30.6},{"i":9.5,"v":40},{"i":13.9,"v":37.5},{"i":16.3,"v":40},{"i":17.9,"v":68},{"i":19.5,"v":100},{"i":21.1,"v":82},{"i":23.5,"v":82},{"i":26.7,"v":58},{"i":28.3,"v":22},{"i":30.3,"v":0},{"i":32.3,"v":0},{"i":33.2,"v":22},{"i":35.8,"v":22},{"i":37.4,"v":58},{"i":38.6,"v":61},{"i":40.2,"v":100},{"i":42.6,"v":100},{"i":43.8,"v":85},{"i":48.6,"v":85},{"i":49.4,"v":61},{"i":51.4,"v":58},{"i":53,"v":37.5},{"i":54.2,"v":68},{"i":56.2,"v":68},{"i":56.6,"v":86},{"i":57.6,"v":64},{"i":58.6,"v":82},{"i":61.8,"v":30.6},{"i":64.2,"v":54},{"i":66.6,"v":75},{"i":67.8,"v":58},{"i":69.8,"v":61},{"i":72.6,"v":100},{"i":75,"v":100},{"i":76.5,"v":64},{"i":79.3,"v":75},{"i":81.7,"v":100},{"i":83.3,"v":100},{"i":84.5,"v":82},{"i":85.7,"v":82},{"i":87.3,"v":61},{"i":89.3,"v":58},{"i":90.9,"v":22},{"i":92.1,"v":22},{"i":93.7,"v":0},{"i":95.7,"v":0},{"i":98.1,"v":37.5},{"i":104.1,"v":37.5},{"i":105.3,"v":61},{"i":108,"v":61},{"i":109.7,"v":82},{"i":110.9,"v":100},{"i":112.1,"v":79},{"i":113.3,"v":79},{"i":114.2,"v":58},{"i":116,"v":58},{"i":117.6,"v":79},{"i":118.8,"v":100},{"i":125.2,"v":100},{"i":126,"v":85},{"i":128.4,"v":85},{"i":130,"v":43},{"i":131.2,"v":58},{"i":133.2,"v":37.5},{"i":134.4,"v":61},{"i":139.6,"v":61},{"i":140.8,"v":78},{"i":142,"v":58},{"i":143.2,"v":79},{"i":144.8,"v":79},{"i":146.4,"v":58},{"i":147.6,"v":82},{"i":150.4,"v":37.5},{"i":152,"v":54},{"i":153.3,"v":30.6},{"i":155.5,"v":79},{"i":157.1,"v":40},{"i":158.3,"v":61},{"i":159.1,"v":37.5},{"i":162.3,"v":37.5},{"i":163.3,"v":17},{"i":165.1,"v":19},{"i":167.9,"v":58},{"i":169.5,"v":61},{"i":172.7,"v":0},{"i":174.7,"v":0},{"i":176.7,"v":19},{"i":178.7,"v":54},{"i":180.3,"v":51},{"i":181.5,"v":68},{"i":183.5,"v":37.5},{"i":185.4,"v":37.5},{"i":187.4,"v":40},{"i":190.6,"v":100},{"i":191.8,"v":100},{"i":193,"v":82},{"i":194.6,"v":82},{"i":196.6,"v":40},{"i":199.4,"v":17},{"i":203.8,"v":17},{"i":208.9,"v":100},{"i":210.5,"v":100},{"i":213.7,"v":40},{"i":215.7,"v":19},{"i":218.9,"v":79},{"i":220.5,"v":79},{"i":222.9,"v":40},{"i":224.5,"v":40},{"i":226.9,"v":64},{"i":228.9,"v":61},{"i":230.9,"v":19},{"i":232.9,"v":19},{"i":233.8,"v":0},{"i":235.7,"v":40},{"i":238.1,"v":47},{"i":239.3,"v":58},{"i":241.3,"v":17},{"i":242.9,"v":40},{"i":244.1,"v":22},{"i":247.3,"v":61},{"i":249.2,"v":61},{"i":250,"v":82},{"i":253.2,"v":82},{"i":254,"v":100},{"i":258.8,"v":100},{"i":260.8,"v":61},{"i":261.9,"v":61}
],
"tbi":[
{"s":"k","i":200.6,"v":98.78},{"s":"k","i":202.6,"v":98.46},{"s":"k","i":205.4,"v":97.62},{"s":"k","i":209.3,"v":96.97},{"s":"k","i":216.5,"v":96.84},{"s":"k","i":221.3,"v":97.03},{"s":"k","i":227.7,"v":97.65},{"s":"k","i":234.1,"v":97.3},{"s":"k","i":239.7,"v":97.49},{"s":"k","i":247.6,"v":97.65},{"s":"k","i":254,"v":98.11},{"s":"k","i":261.9,"v":98.43},
{"s":"r","i":238.1,"v":97.24},{"s":"r","i":246.1,"v":97.57},{"s":"r","i":254,"v":97.84},{"s":"r","i":263.2,"v":98.16}
],
"stoch2":[
{"s":"k","i":15.9,"v":32.4},{"s":"k","i":17.9,"v":33.8},{"s":"k","i":20.3,"v":61.8},{"s":"k","i":24.3,"v":97},{"s":"k","i":27.5,"v":97},{"s":"k","i":30.7,"v":80.9},{"s":"k","i":33.8,"v":36.8},{"s":"k","i":36.2,"v":19},{"s":"k","i":38.6,"v":19},{"s":"k","i":41.8,"v":55.9},{"s":"k","i":45.8,"v":92.6},{"s":"k","i":49.8,"v":88.2},{"s":"k","i":56.2,"v":64.7},{"s":"k","i":62.6,"v":61.8},{"s":"k","i":68.2,"v":61.8},{"s":"k","i":75.4,"v":94},{"s":"k","i":86.5,"v":92.6},{"s":"k","i":89.7,"v":80.9},{"s":"k","i":93.3,"v":36.8},{"s":"k","i":95.7,"v":11.8},{"s":"k","i":98.9,"v":14.7},{"s":"k","i":102.1,"v":29.4},{"s":"k","i":107.3,"v":44},{"s":"k","i":110,"v":73.5},{"s":"k","i":113.3,"v":92.6},{"s":"k","i":118.8,"v":92.6},{"s":"k","i":123.6,"v":98.5},{"s":"k","i":131.6,"v":98.5},{"s":"k","i":139.6,"v":73.5},{"s":"k","i":145.2,"v":91},{"s":"k","i":150.8,"v":94},{"s":"k","i":157.1,"v":76.5},{"s":"k","i":163.5,"v":32.4},{"s":"k","i":166.7,"v":44},{"s":"k","i":169.9,"v":58.8},{"s":"k","i":173.1,"v":61.8},{"s":"k","i":178.7,"v":23.5},{"s":"k","i":182.7,"v":36.8},{"s":"k","i":185.4,"v":58.8},{"s":"k","i":189.4,"v":50},{"s":"k","i":194.2,"v":92.6},{"s":"k","i":197.4,"v":88.2},{"s":"k","i":200.6,"v":47},{"s":"k","i":205.4,"v":10.3},{"s":"k","i":210.1,"v":66},{"s":"k","i":212.9,"v":92.6},{"s":"k","i":218.9,"v":73.5},{"s":"k","i":223.7,"v":91},{"s":"k","i":231.7,"v":88.2},{"s":"k","i":234.9,"v":36.8},{"s":"k","i":239.7,"v":20.6},{"s":"k","i":245.3,"v":20.6},{"s":"k","i":249.2,"v":51.5},{"s":"k","i":253.2,"v":95.6},{"s":"k","i":258.8,"v":98.5},{"s":"k","i":261.9,"v":91},
{"s":"r","i":18.3,"v":33.8},{"s":"r","i":21,"v":55.9},{"s":"r","i":25.9,"v":98.5},{"s":"r","i":29.9,"v":80.9},{"s":"r","i":34.6,"v":29.4},{"s":"r","i":37.8,"v":19},{"s":"r","i":41,"v":41},{"s":"r","i":45.8,"v":88.2},{"s":"r","i":49.8,"v":91},{"s":"r","i":56.2,"v":66},{"s":"r","i":62.6,"v":63},{"s":"r","i":69,"v":61.8},{"s":"r","i":76.1,"v":91},{"s":"r","i":88.9,"v":88.2},{"s":"r","i":93.3,"v":44},{"s":"r","i":97.3,"v":11.8},{"s":"r","i":101.3,"v":26.5},{"s":"r","i":107.3,"v":39.7},{"s":"r","i":112.4,"v":88.2},{"s":"r","i":117.2,"v":91},{"s":"r","i":125.2,"v":98.5},{"s":"r","i":132.4,"v":98.5},{"s":"r","i":139.6,"v":76.5},{"s":"r","i":147.6,"v":94},{"s":"r","i":157.1,"v":73.5},{"s":"r","i":164.3,"v":32.4},{"s":"r","i":172.3,"v":63},{"s":"r","i":179.5,"v":26.5},{"s":"r","i":186.3,"v":54.4},{"s":"r","i":190.2,"v":55.9},{"s":"r","i":195.8,"v":92.6},{"s":"r","i":198.2,"v":85},{"s":"r","i":201.4,"v":36.8},{"s":"r","i":206.2,"v":11.8},{"s":"r","i":213.3,"v":92.6},{"s":"r","i":219.7,"v":73.5},{"s":"r","i":225.3,"v":92.6},{"s":"r","i":232.5,"v":88.2},{"s":"r","i":236.5,"v":29.4},{"s":"r","i":246.1,"v":20.6},{"s":"r","i":254,"v":95.6},{"s":"r","i":261.9,"v":91}
]
},
"vconcat":[
{"width":1159,"height":27,"encoding":{"x":{"field":"i","type":"quantitative","scale":{"domain":[-0.79,276.6],"nice":false,"zero":false,"padding":0},"axis":null}},
"layer":[
{"data":{"values":[{"i":5.2},{"i":23.1},{"i":32.7},{"i":231.9},{"i":248.9},{"i":263.7}]},"mark":{"type":"rule","stroke":"#b4b4b4"}},
{"mark":{"type":"rule","stroke":"#b4b4b4"},"data":{"values":[{"r":1,"i":-0.79,"i2":23.1}]},"encoding":{"y":{"field":"r","type":"quantitative","scale":{"domain":[2,0],"nice":false,"zero":false},"axis":null},"x2":{"field":"i2"}}},
{"data":{"values":[{"t":"Tage","i":2.4,"r":0.5},{"t":"5M","i":2.4,"r":1.5},{"t":"Mo 14.09.2009","i":14.1,"r":0.5},{"t":"Fr 24.09.2010","i":14.1,"r":1.5},{"t":"SPX_X","i":28,"r":0.5},{"t":"USD","i":28,"r":1.5},{"t":"Indizes","i":240.3,"r":0.5},{"t":"Internationale","i":240.3,"r":1.5}]},"mark":{"type":"text","align":"center"},"encoding":{"y":{"field":"r","type":"quantitative"},"text":{"field":"t"}}},
{"data":{"values":[{"t":"H: 1219.80","i":249.4,"r":0.5},{"t":"L: 1010.91","i":249.4,"r":1.5},{"t":"1148.67","i":264.3,"r":0.5},{"t":"9.5/99.33","i":264.3,"r":1.5}]},"mark":{"type":"text"},"encoding":{"y":{"field":"r","type":"quantitative"},"text":{"field":"t"}}},
{"data":{"values":[{"t":"S&P 500","i":33.4,"r":0.8}]},"mark":{"type":"text","fontWeight":"bold","fontSize":13,"font":"Liberation Sans"},"encoding":{"y":{"field":"r","type":"quantitative"},"text":{"field":"t"}}},
{"mark":{"type":"rule","stroke":"black","strokeWidth":2},"encoding":{"x":{"datum":-0.79}}},
{"mark":{"type":"rule","stroke":"black","strokeWidth":2},"encoding":{"x":{"datum":276.6}}},
{"data":{"values":[{"r":0,"i":-0.79,"i2":276.6}]},"mark":{"type":"rule","stroke":"black","strokeWidth":2},"encoding":{"y":{"field":"r","type":"quantitative"},"x2":{"field":"i2"}}}
]},
{"width":1159,"height":317,"encoding":{"x":{"field":"i","type":"quantitative","scale":{"domain":[-0.79,276.6],"nice":false,"zero":false,"padding":0},"axis":null}},
"layer":[
{"data":{"values":[{"v":1000,"i":-0.55,"i2":263.2},{"v":1025,"i":-0.55,"i2":263.2},{"v":1050,"i":-0.55,"i2":263.2},{"v":1075,"i":-0.55,"i2":263.2},{"v":1100,"i":-0.55,"i2":263.2},{"v":1125,"i":-0.55,"i2":263.2},{"v":1150,"i":-0.55,"i2":263.2},{"v":1175,"i":-0.55,"i2":263.2},{"v":1200,"i":-0.55,"i2":263.2},{"v":1225,"i":-0.55,"i2":263.2},{"v":1250,"i":-0.55,"i2":263.2}]},"mark":{"type":"rule","stroke":"#b4b4b4","strokeDash":[4,3]},"encoding":{"y":{"field":"v","type":"quantitative","scale":{"domain":[996.6,1265.3],"nice":false,"zero":false},"axis":null},"x2":{"field":"i2"}}},
{"data":{"name":"months"},"mark":{"type":"rule","stroke":"#b4b4b4","strokeDash":[4,3]}},
{"data":{"values":[{"v":1130.3,"i":-0.55,"i2":263.2},{"v":1111.6,"i":-0.55,"i2":263.2},{"v":1092.1,"i":-0.55,"i2":263.2},{"v":1089.6,"i":-0.55,"i2":263.2},{"v":1041.3,"i":-0.55,"i2":263.2}]},"mark":{"type":"rule","stroke":"#b0b0f0"},"encoding":{"y":{"field":"v","type":"quantitative"},"x2":{"field":"i2"}}},
{"data":{"values":[{"i":-0.55,"i2":25.6,"v":1261.9,"v2":1178.8}]},"mark":{"type":"rect","fill":"white"},"encoding":{"x2":{"field":"i2"},"y":{"field":"v","type":"quantitative"},"y2":{"field":"v2"}}},
{"data":{"name":"c"},"mark":{"type":"rule","stroke":"black","strokeWidth":1},"encoding":{"y":{"field":"h","type":"quantitative"},"y2":{"field":"l"}}},
{"data":{"name":"c"},"mark":{"type":"bar","size":3,"stroke":"black","strokeWidth":1},"encoding":{"y":{"field":"o","type":"quantitative"},"y2":{"field":"c"},"color":{"condition":{"test":"datum.c<datum.o","value":"black"},"value":"white"}}},
{"data":{"name":"pl"},"mark":{"type":"line","strokeWidth":1},"encoding":{"y":{"field":"v","type":"quantitative"},"color":{"field":"s","type":"nominal","legend":null,"scale":{"domain":["u","l","m","y","b1","t","b2","g","n"],"range":["#ff0000","#ff0000","#ff0000","#ffff00","#0000ff","#008080","#0000ff","#008000","#000080"]}}}},
{"data":{"values":[{"t":"EMA(50)","s":"m","i":0,"v":1255.9},{"t":"1103.087","s":"m","i":14.5,"v":1255.9},{"t":"EMA(100)","s":"b1","i":0,"v":1244},{"t":"1103.800","s":"b1","i":14.5,"v":1244},{"t":"EMA(200)","s":"g","i":0,"v":1232.2},{"t":"1103.467","s":"g","i":14.5,"v":1232.2},{"t":"BB (EMA)(20/2.00)","s":"b1","i":0,"v":1220.3},{"t":"1115.640","s":"b1","i":28.9,"v":1220.3},{"t":"SMA(20)","s":"y","i":0,"v":1208.5},{"t":"1107.538","s":"y","i":14.5,"v":1208.5},{"t":"SMA(200)","s":"n","i":0,"v":1196.6},{"t":"1117.056","s":"n","i":14.5,"v":1196.6},{"t":"WMA(14)","s":"t","i":0,"v":1184.7},{"t":"1130.093","s":"t","i":14.5,"v":1184.7}]},"mark":{"type":"text"},"encoding":{"y":{"field":"v","type":"quantitative"},"text":{"field":"t"},"color":{"field":"s","type":"nominal","legend":null}}},
{"data":{"values":[{"a":"a1","n":0,"i":35.8,"v":1208.5},{"a":"a1","n":1,"i":44.6,"v":1213.3},{"a":"a1","n":2,"i":44.6,"v":1210.8},{"a":"a1","n":3,"i":53.4,"v":1210.8},{"a":"a1","n":4,"i":53.4,"v":1206.2},{"a":"a1","n":5,"i":44.6,"v":1206.2},{"a":"a1","n":6,"i":44.6,"v":1203.6},{"a":"a1","n":7,"i":35.8,"v":1208.5},{"a":"a2","n":0,"i":44.2,"v":1198},{"a":"a2","n":1,"i":53,"v":1202.8},{"a":"a2","n":2,"i":53,"v":1200.6},{"a":"a2","n":3,"i":62.3,"v":1200.6},{"a":"a2","n":4,"i":62.3,"v":1195.2},{"a":"a2","n":5,"i":53,"v":1195.2},{"a":"a2","n":6,"i":53,"v":1193},{"a":"a2","n":7,"i":44.2,"v":1198},{"a":"a3","n":0,"i":32.6,"v":1184.5},{"a":"a3","n":1,"i":42.8,"v":1190.1},{"a":"a3","n":2,"i":42.8,"v":1187.9},{"a":"a3","n":3,"i":53,"v":1187.9},{"a":"a3","n":4,"i":53,"v":1181.6},{"a":"a3","n":5,"i":42.8,"v":1181.6},{"a":"a3","n":6,"i":42.8,"v":1178.8},{"a":"a3","n":7,"i":32.6,"v":1184.5}]},"mark":{"type":"line","stroke":"#ee1c25","strokeWidth":1},"encoding":{"y":{"field":"v","type":"quantitative"},"detail":{"field":"a"},"order":{"field":"n"}}},
{"data":{"values":[{"a":"b","n":0,"i":221.3,"v":1183},{"a":"b","n":1,"i":225.7,"v":1183},{"a":"b","n":2,"i":225.7,"v":1159.3},{"a":"b","n":3,"i":227.5,"v":1159.3},{"a":"b","n":4,"i":223.5,"v":1133.9},{"a":"b","n":5,"i":219.7,"v":1159.3},{"a":"b","n":6,"i":221.3,"v":1159.3},{"a":"b","n":7,"i":221.3,"v":1183},{"a":"s","n":0,"i":259.4,"v":1022.9},{"a":"s","n":1,"i":262.3,"v":1022.9},{"a":"s","n":2,"i":262.3,"v":1013.6},{"a":"s","n":3,"i":263.9,"v":1013.6},{"a":"s","n":4,"i":260.8,"v":1003.4},{"a":"s","n":5,"i":257.5,"v":1013.6},{"a":"s","n":6,"i":259.4,"v":1013.6},{"a":"s","n":7,"i":259.4,"v":1022.9}]},"mark":{"type":"line","stroke":"#ee1c25","strokeWidth":4,"strokeJoin":"miter"},"encoding":{"y":{"field":"v","type":"quantitative"},"detail":{"field":"a"},"order":{"field":"n"}}},
{"data":{"values":[{"t":"Nackenlinie i-SKS","i":200.3,"v":1217}]},"mark":{"type":"text","font":"Open Sans","fontWeight":"bold","fontSize":13,"color":"#ee2c35"},"encoding":{"y":{"field":"v","type":"quantitative"},"text":{"field":"t"}}},
{"data":{"values":[{"i":261.9,"v":1262.7}]},"mark":{"type":"point","shape":"triangle-down","filled":true,"size":25,"color":"#b03030"},"encoding":{"y":{"field":"v","type":"quantitative"}}},
{"data":{"values":[{"i":263.2,"i2":276.6,"v":1154.9,"v2":1143}]},"mark":{"type":"rect","fill":"#0000e0"},"encoding":{"x2":{"field":"i2"},"y":{"field":"v","type":"quantitative"},"y2":{"field":"v2"}}},
{"data":{"values":[{"t":"(c)Tai-Pan","i":264.2,"v":1257.6},{"t":"1250.00","i":265.1,"v":1250},{"t":"1225.00","i":265.1,"v":1225},{"t":"1200.00","i":265.1,"v":1200},{"t":"1175.00","i":265.1,"v":1175},{"t":"1125.00","i":265.1,"v":1125},{"t":"1100.00","i":265.1,"v":1100},{"t":"1075.00","i":265.1,"v":1075},{"t":"1050.00","i":265.1,"v":1050},{"t":"1025.00","i":265.1,"v":1025},{"t":"1000.00","i":265.1,"v":1004.2}]},"mark":{"type":"text"},"encoding":{"y":{"field":"v","type":"quantitative"},"text":{"field":"t"}}},
{"data":{"values":[{"t":"1148.67","i":265.1,"v":1149}]},"mark":{"type":"text","color":"white"},"encoding":{"y":{"field":"v","type":"quantitative"},"text":{"field":"t"}}},
{"mark":{"type":"rule","stroke":"#b4b4b4"},"encoding":{"x":{"datum":263.2}}},
{"mark":{"type":"rule","stroke":"black","strokeWidth":2},"encoding":{"x":{"datum":-0.79}}},
{"mark":{"type":"rule","stroke":"black","strokeWidth":2},"encoding":{"x":{"datum":276.6}}}
]},
{"width":1159,"height":33,"encoding":{"x":{"field":"i","type":"quantitative","scale":{"domain":[-0.79,276.6],"nice":false,"zero":false,"padding":0},"axis":null}},
"layer":[
{"data":{"name":"months"},"mark":{"type":"rule","stroke":"#b4b4b4","strokeDash":[3,3]}},
{"data":{"values":[{"v":0,"i":11.5,"i2":263.2}]},"mark":{"type":"rule","stroke":"black"},"encoding":{"y":{"field":"v","type":"quantitative","scale":{"domain":[-36.06,24.5],"nice":false,"zero":false},"axis":null},"x2":{"field":"i2"}}},
{"data":{"name":"macd"},"mark":{"type":"line","strokeWidth":1},"encoding":{"y":{"field":"v","type":"quantitative"},"color":{"field":"s","type":"nominal","legend":null,"scale":{"domain":["k","r"],"range":["black","#ff0000"]}}}},
{"data":{"values":[{"t":"MACD(12/26/9)","i":0.4,"v":-22.1},{"t":"0.000","i":221.6,"v":12.4}]},"mark":{"type":"text"},"encoding":{"y":{"field":"v","type":"quantitative"},"text":{"field":"t"}}},
{"data":{"values":[{"i":-0.5,"i2":25,"v":-27,"v2":-34.8}]},"mark":{"type":"rect","fill":"white"},"encoding":{"x2":{"field":"i2"},"y":{"field":"v","type":"quantitative"},"y2":{"field":"v2"}}},
{"data":{"values":[{"i":-0.07,"i2":8.15,"v":14.2,"v2":-8.8},{"i":8.95,"i2":11.5,"v":12.4,"v2":-7}]},"mark":{"type":"rect","fill":"white","stroke":"black"},"encoding":{"x2":{"field":"i2"},"y":{"field":"v","type":"quantitative"},"y2":{"field":"v2"}}},
{"data":{"values":[{"t":"MACD","i":0.5,"v":2.5}]},"mark":{"type":"text"},"encoding":{"y":{"field":"v","type":"quantitative"},"text":{"field":"t"}}},
{"data":{"values":[{"t":"+","i":10.2,"v":2.5}]},"mark":{"type":"text","align":"center","fontWeight":"bold","fontSize":14,"color":"black"},"encoding":{"y":{"field":"v","type":"quantitative"},"text":{"field":"t"}}},
{"data":{"values":[{"k":"a","i":263.2,"i2":276.6,"v":20.3,"v2":0.3},{"k":"b","i":263.2,"i2":276.6,"v":-2.7,"v2":-27}]},"mark":{"type":"rect"},"encoding":{"x2":{"field":"i2"},"y":{"field":"v","type":"quantitative"},"y2":{"field":"v2"},"fill":{"field":"k","type":"nominal","legend":null,"scale":{"domain":["a","b"],"range":["black","#ff0000"]}}}},
{"data":{"values":[{"t":"14.475","i":265.1,"v":10.3},{"t":"10.876","i":265.1,"v":-15}]},"mark":{"type":"text","color":"white"},"encoding":{"y":{"field":"v","type":"quantitative"},"text":{"field":"t"}}},
{"mark":{"type":"rule","stroke":"#b4b4b4"},"encoding":{"x":{"datum":263.2}}},
{"mark":{"type":"rule","stroke":"black","strokeWidth":2},"encoding":{"x":{"datum":-0.79}}},
{"mark":{"type":"rule","stroke":"black","strokeWidth":2},"encoding":{"x":{"datum":276.6}}}
]},
{"width":1159,"height":32,"encoding":{"x":{"field":"i","type":"quantitative","scale":{"domain":[-0.79,276.6],"nice":false,"zero":false,"padding":0},"axis":null}},
"layer":[
{"data":{"name":"months"},"mark":{"type":"rule","stroke":"#b4b4b4","strokeDash":[3,3]}},
{"data":{"values":[{"v":50,"i":11.5,"i2":263.2}]},"mark":{"type":"rule","stroke":"black"},"encoding":{"y":{"field":"v","type":"quantitative","scale":{"domain":[-16.7,116.7],"nice":false,"zero":false},"axis":null},"x2":{"field":"i2"}}},
{"data":{"name":"obos"},"mark":{"type":"line","strokeWidth":1,"stroke":"black"},"encoding":{"y":{"field":"v","type":"quantitative"}}},
{"data":{"values":[{"t":"OBOS(20)","i":0.4,"v":12.5},{"t":"50.000","i":221,"v":77.8}]},"mark":{"type":"text"},"encoding":{"y":{"field":"v","type":"quantitative"},"text":{"field":"t"}}},
{"data":{"values":[{"i":-0.5,"i2":25,"v":1.4,"v2":-15}]},"mark":{"type":"rect","fill":"white"},"encoding":{"x2":{"field":"i2"},"y":{"field":"v","type":"quantitative"},"y2":{"field":"v2"}}},
{"data":{"values":[{"i":-0.07,"i2":8.15,"v":95.8,"v2":43},{"i":8.95,"i2":11.5,"v":91.7,"v2":47.2}]},"mark":{"type":"rect","fill":"white","stroke":"black"},"encoding":{"x2":{"field":"i2"},"y":{"field":"v","type":"quantitative"},"y2":{"field":"v2"}}},
{"data":{"values":[{"t":"OBOS","i":0.5,"v":69.5}]},"mark":{"type":"text"},"encoding":{"y":{"field":"v","type":"quantitative"},"text":{"field":"t"}}},
{"data":{"values":[{"t":"+","i":10.2,"v":69.5}]},"mark":{"type":"text","align":"center","fontWeight":"bold","fontSize":14,"color":"black"},"encoding":{"y":{"field":"v","type":"quantitative"},"text":{"field":"t"}}},
{"data":{"values":[{"i":263.2,"i2":276.6,"v":107,"v2":61}]},"mark":{"type":"rect","fill":"black"},"encoding":{"x2":{"field":"i2"},"y":{"field":"v","type":"quantitative"},"y2":{"field":"v2"}}},
{"data":{"values":[{"t":"99.789","i":265.1,"v":84.7}]},"mark":{"type":"text","color":"white"},"encoding":{"y":{"field":"v","type":"quantitative"},"text":{"field":"t"}}},
{"data":{"values":[{"t":"0.00","i":265.1,"v":30.6}]},"mark":{"type":"text"},"encoding":{"y":{"field":"v","type":"quantitative"},"text":{"field":"t"}}},
{"data":{"values":[{"n":0,"i":259.6,"v":-8.3},{"n":1,"i":262.7,"v":-8.3},{"n":2,"i":262.7,"v":19.4},{"n":3,"i":263.9,"v":19.4},{"n":4,"i":261.2,"v":43},{"n":5,"i":258.8,"v":19.4},{"n":6,"i":259.6,"v":19.4},{"n":7,"i":259.6,"v":-8.3}]},"mark":{"type":"line","stroke":"#ee1c25","strokeWidth":3,"strokeJoin":"miter"},"encoding":{"y":{"field":"v","type":"quantitative"},"order":{"field":"n"}}},
{"mark":{"type":"rule","stroke":"#b4b4b4"},"encoding":{"x":{"datum":263.2}}},
{"mark":{"type":"rule","stroke":"black","strokeWidth":2},"encoding":{"x":{"datum":-0.79}}},
{"mark":{"type":"rule","stroke":"black","strokeWidth":2},"encoding":{"x":{"datum":276.6}}}
]},
{"width":1159,"height":33,"encoding":{"x":{"field":"i","type":"quantitative","scale":{"domain":[-0.79,276.6],"nice":false,"zero":false,"padding":0},"axis":null}},
"layer":[
{"data":{"name":"months"},"mark":{"type":"rule","stroke":"#b4b4b4","strokeDash":[3,3]}},
{"data":{"values":[{"v":80,"i":8.3,"i2":263.2},{"v":50,"i":8.3,"i2":263.2},{"v":20,"i":8.3,"i2":263.2}]},"mark":{"type":"rule","stroke":"black"},"encoding":{"y":{"field":"v","type":"quantitative","scale":{"domain":[-18,114],"nice":false,"zero":false},"axis":null},"x2":{"field":"i2"}}},
{"data":{"name":"stoch"},"mark":{"type":"line","strokeWidth":1},"encoding":{"y":{"field":"v","type":"quantitative"},"color":{"field":"s","type":"nominal","legend":null,"scale":{"domain":["k","r"],"range":["black","#ff0000"]}}}},
{"data":{"values":[{"t":"%K(9/5)","i":0.4,"v":14},{"t":"80.000","i":115.6,"v":55.3},{"t":"50.000","i":168.3,"v":75},{"t":"20.000","i":220.9,"v":46}]},"mark":{"type":"text"},"encoding":{"y":{"field":"v","type":"quantitative"},"text":{"field":"t"}}},
{"data":{"values":[{"i":-0.5,"i2":25,"v":2,"v2":-15.3}]},"mark":{"type":"rect","fill":"white"},"encoding":{"x2":{"field":"i2"},"y":{"field":"v","type":"quantitative"},"y2":{"field":"v2"}}},
{"data":{"values":[{"i":-0.07,"i2":5.1,"v":92.7,"v2":42},{"i":5.9,"i2":8.3,"v":88.7,"v2":46}]},"mark":{"type":"rect","fill":"white","stroke":"black"},"encoding":{"x2":{"field":"i2"},"y":{"field":"v","type":"quantitative"},"y2":{"field":"v2"}}},
{"data":{"values":[{"t":"%K","i":0.5,"v":67.3}]},"mark":{"type":"text"},"encoding":{"y":{"field":"v","type":"quantitative"},"text":{"field":"t"}}},
{"data":{"values":[{"t":"+","i":7.1,"v":67.3}]},"mark":{"type":"text","align":"center","fontWeight":"bold","fontSize":14,"color":"black"},"encoding":{"y":{"field":"v","type":"quantitative"},"text":{"field":"t"}}},
{"data":{"values":[{"k":"b","i":263.2,"i2":276.6,"v":108.7,"v2":55.3},{"k":"a","i":263.2,"i2":276.6,"v":51.3,"v2":-0.7}]},"mark":{"type":"rect"},"encoding":{"x2":{"field":"i2"},"y":{"field":"v","type":"quantitative"},"y2":{"field":"v2"},"fill":{"field":"k","type":"nominal","legend":null,"scale":{"domain":["a","b"],"range":["black","#ff0000"]}}}},
{"data":{"values":[{"t":"83.874","i":265.1,"v":84.7},{"t":"76.991","i":265.1,"v":27.3}]},"mark":{"type":"text","color":"white"},"encoding":{"y":{"field":"v","type":"quantitative"},"text":{"field":"t"}}},
{"mark":{"type":"rule","stroke":"#b4b4b4"},"encoding":{"x":{"datum":263.2}}},
{"mark":{"type":"rule","stroke":"black","strokeWidth":2},"encoding":{"x":{"datum":-0.79}}},
{"mark":{"type":"rule","stroke":"black","strokeWidth":2},"encoding":{"x":{"datum":276.6}}}
]},
{"width":1159,"height":33,"encoding":{"x":{"field":"i","type":"quantitative","scale":{"domain":[-0.79,276.6],"nice":false,"zero":false,"padding":0},"axis":null}},
"layer":[
{"data":{"name":"months"},"mark":{"type":"rule","stroke":"#b4b4b4","strokeDash":[3,3]}},
{"data":{"name":"mfi"},"mark":{"type":"line","strokeWidth":1,"stroke":"black"},"encoding":{"y":{"field":"v","type":"quantitative","scale":{"domain":[-19.4,116.7],"nice":false,"zero":false},"axis":null}}},
{"data":{"values":[{"t":"MFI(5)","i":0.4,"v":9.7}]},"mark":{"type":"text"},"encoding":{"y":{"field":"v","type":"quantitative"},"text":{"field":"t"}}},
{"data":{"values":[{"i":-0.5,"i2":25,"v":-1.4,"v2":-16.7}]},"mark":{"type":"rect","fill":"white"},"encoding":{"x2":{"field":"i2"},"y":{"field":"v","type":"quantitative"},"y2":{"field":"v2"}}},
{"data":{"values":[{"i":-0.07,"i2":4.95,"v":94.4,"v2":41.7},{"i":5.5,"i2":8.15,"v":88.9,"v2":47.2}]},"mark":{"type":"rect","fill":"white","stroke":"black"},"encoding":{"x2":{"field":"i2"},"y":{"field":"v","type":"quantitative"},"y2":{"field":"v2"}}},
{"data":{"values":[{"t":"MFI","i":0.5,"v":68}]},"mark":{"type":"text"},"encoding":{"y":{"field":"v","type":"quantitative"},"text":{"field":"t"}}},
{"data":{"values":[{"t":"+","i":6.8,"v":68}]},"mark":{"type":"text","align":"center","fontWeight":"bold","fontSize":14,"color":"black"},"encoding":{"y":{"field":"v","type":"quantitative"},"text":{"field":"t"}}},
{"data":{"values":[{"t":"0.00","i":265.1,"v":29}]},"mark":{"type":"text"},"encoding":{"y":{"field":"v","type":"quantitative"},"text":{"field":"t"}}},
{"data":{"values":[{"i":263.2,"i2":276.6,"v":91.7,"v2":36}]},"mark":{"type":"rect","fill":"black"},"encoding":{"x2":{"field":"i2"},"y":{"field":"v","type":"quantitative"},"y2":{"field":"v2"}}},
{"data":{"values":[{"t":"59.821","i":265.1,"v":62.5}]},"mark":{"type":"text","color":"white"},"encoding":{"y":{"field":"v","type":"quantitative"},"text":{"field":"t"}}},
{"mark":{"type":"rule","stroke":"#b4b4b4"},"encoding":{"x":{"datum":263.2}}},
{"mark":{"type":"rule","stroke":"black","strokeWidth":2},"encoding":{"x":{"datum":-0.79}}},
{"mark":{"type":"rule","stroke":"black","strokeWidth":2},"encoding":{"x":{"datum":276.6}}}
]},
{"width":1159,"height":33,"encoding":{"x":{"field":"i","type":"quantitative","scale":{"domain":[-0.79,276.6],"nice":false,"zero":false,"padding":0},"axis":null}},
"layer":[
{"data":{"name":"months"},"mark":{"type":"rule","stroke":"#b4b4b4","strokeDash":[3,3]}},
{"data":{"name":"tbi"},"mark":{"type":"line","strokeWidth":1},"encoding":{"y":{"field":"v","type":"quantitative","scale":{"domain":[96.43,99.1],"nice":false,"zero":false},"axis":null},"color":{"field":"s","type":"nominal","legend":null,"scale":{"domain":["k","r"],"range":["black","#ff0000"]}}}},
{"data":{"values":[{"t":"TBI(38/200)","i":0.4,"v":97}]},"mark":{"type":"text"},"encoding":{"y":{"field":"v","type":"quantitative"},"text":{"field":"t"}}},
{"data":{"values":[{"i":-0.5,"i2":25,"v":96.78,"v2":96.46}]},"mark":{"type":"rect","fill":"white"},"encoding":{"x2":{"field":"i2"},"y":{"field":"v","type":"quantitative"},"y2":{"field":"v2"}}},
{"data":{"values":[{"i":-0.07,"i2":4.6,"v":98.65,"v2":97.62},{"i":5.3,"i2":7.9,"v":98.57,"v2":97.7}]},"mark":{"type":"rect","fill":"white","stroke":"black"},"encoding":{"x2":{"field":"i2"},"y":{"field":"v","type":"quantitative"},"y2":{"field":"v2"}}},
{"data":{"values":[{"t":"TBI","i":0.5,"v":98.13}]},"mark":{"type":"text"},"encoding":{"y":{"field":"v","type":"quantitative"},"text":{"field":"t"}}},
{"data":{"values":[{"t":"+","i":6.6,"v":98.13}]},"mark":{"type":"text","align":"center","fontWeight":"bold","fontSize":14,"color":"black"},"encoding":{"y":{"field":"v","type":"quantitative"},"text":{"field":"t"}}},
{"data":{"values":[{"t":"Trendbestätigung","i":151.2,"v":98.1}]},"mark":{"type":"text","font":"Open Sans","fontWeight":"bold","fontSize":13,"color":"#ee2c35"},"encoding":{"y":{"field":"v","type":"quantitative"},"text":{"field":"t"}}},
{"data":{"values":[{"i":263.2,"i2":276.6,"v":98.97,"v2":97.92}]},"mark":{"type":"rect","fill":"black"},"encoding":{"x2":{"field":"i2"},"y":{"field":"v","type":"quantitative"},"y2":{"field":"v2"}}},
{"data":{"values":[{"t":"98.431","i":265.1,"v":98.46}]},"mark":{"type":"text","color":"white"},"encoding":{"y":{"field":"v","type":"quantitative"},"text":{"field":"t"}}},
{"data":{"values":[{"t":"96.83","i":265.1,"v":97.43}]},"mark":{"type":"text"},"encoding":{"y":{"field":"v","type":"quantitative"},"text":{"field":"t"}}},
{"mark":{"type":"rule","stroke":"#b4b4b4"},"encoding":{"x":{"datum":263.2}}},
{"mark":{"type":"rule","stroke":"black","strokeWidth":2},"encoding":{"x":{"datum":-0.79}}},
{"mark":{"type":"rule","stroke":"black","strokeWidth":2},"encoding":{"x":{"datum":276.6}}}
]},
{"width":1159,"height":32,"encoding":{"x":{"field":"i","type":"quantitative","scale":{"domain":[-0.79,276.6],"nice":false,"zero":false,"padding":0},"axis":null}},
"layer":[
{"data":{"name":"months"},"mark":{"type":"rule","stroke":"#b4b4b4","strokeDash":[3,3]}},
{"data":{"values":[{"v":50,"i":8.3,"i2":263.2}]},"mark":{"type":"rule","stroke":"black"},"encoding":{"y":{"field":"v","type":"quantitative","scale":{"domain":[-20.6,122],"nice":false,"zero":false},"axis":null},"x2":{"field":"i2"}}},
{"data":{"name":"stoch2"},"mark":{"type":"line","strokeWidth":1},"encoding":{"y":{"field":"v","type":"quantitative"},"color":{"field":"s","type":"nominal","legend":null,"scale":{"domain":["k","r"],"range":["black","#ff0000"]}}}},
{"data":{"values":[{"t":"%K(9/5/3)","i":0.4,"v":10.3},{"t":"50.000","i":220.9,"v":77.9}]},"mark":{"type":"text"},"encoding":{"y":{"field":"v","type":"quantitative"},"text":{"field":"t"}}},
{"data":{"values":[{"i":-0.5,"i2":25,"v":-1.5,"v2":-19}]},"mark":{"type":"rect","fill":"white"},"encoding":{"x2":{"field":"i2"},"y":{"field":"v","type":"quantitative"},"y2":{"field":"v2"}}},
{"data":{"values":[{"i":-0.07,"i2":4.95,"v":97,"v2":41.2},{"i":5.9,"i2":8.3,"v":92.6,"v2":45.6}]},"mark":{"type":"rect","fill":"white","stroke":"black"},"encoding":{"x2":{"field":"i2"},"y":{"field":"v","type":"quantitative"},"y2":{"field":"v2"}}},
{"data":{"values":[{"t":"%K","i":0.5,"v":69}]},"mark":{"type":"text"},"encoding":{"y":{"field":"v","type":"quantitative"},"text":{"field":"t"}}},
{"data":{"values":[{"t":"+","i":7.1,"v":69}]},"mark":{"type":"text","align":"center","fontWeight":"bold","fontSize":14,"color":"black"},"encoding":{"y":{"field":"v","type":"quantitative"},"text":{"field":"t"}}},
{"data":{"values":[{"k":"b","i":263.2,"i2":276.6,"v":113.2,"v2":58.8},{"k":"a","i":263.2,"i2":276.6,"v":51.5,"v2":-2.9}]},"mark":{"type":"rect"},"encoding":{"x2":{"field":"i2"},"y":{"field":"v","type":"quantitative"},"y2":{"field":"v2"},"fill":{"field":"k","type":"nominal","legend":null,"scale":{"domain":["a","b"],"range":["black","#ff0000"]}}}},
{"data":{"values":[{"t":"87.399","i":265.1,"v":88.2},{"t":"83.874","i":265.1,"v":25}]},"mark":{"type":"text","color":"white"},"encoding":{"y":{"field":"v","type":"quantitative"},"text":{"field":"t"}}},
{"mark":{"type":"rule","stroke":"#b4b4b4"},"encoding":{"x":{"datum":263.2}}},
{"mark":{"type":"rule","stroke":"black","strokeWidth":2},"encoding":{"x":{"datum":-0.79}}},
{"mark":{"type":"rule","stroke":"black","strokeWidth":2},"encoding":{"x":{"datum":276.6}}}
]},
{"width":1159,"height":33,"encoding":{"x":{"field":"i","type":"quantitative","scale":{"domain":[-0.79,276.6],"nice":false,"zero":false,"padding":0},"axis":null}},
"layer":[
{"data":{"name":"months"},"mark":{"type":"rule","stroke":"#b4b4b4","strokeDash":[3,3]}},
{"data":{"name":"c"},"mark":{"type":"bar","size":3,"orient":"vertical"},"encoding":{"y":{"field":"m","type":"quantitative","scale":{"domain":[0,11.6],"nice":false},"axis":null},"color":{"condition":{"test":"datum.c<datum.o","value":"#ff0000"},"value":"#008000"}}},
{"data":{"values":[{"t":"8541261","i":265.1,"v":7.7},{"t":"910873","i":265.1,"v":2.9}]},"mark":{"type":"text"},"encoding":{"y":{"field":"v","type":"quantitative"},"text":{"field":"t"}}},
{"mark":{"type":"rule","stroke":"#b4b4b4"},"encoding":{"x":{"datum":263.2}}},
{"mark":{"type":"rule","stroke":"black","strokeWidth":2},"encoding":{"x":{"datum":-0.79}}},
{"mark":{"type":"rule","stroke":"black","strokeWidth":2},"encoding":{"x":{"datum":276.6}}}
]},
{"width":1159,"height":14,"encoding":{"x":{"field":"i","type":"quantitative","scale":{"domain":[-0.79,276.6],"nice":false,"zero":false,"padding":0},"axis":null}},
"layer":[
{"data":{"name":"months"},"mark":{"type":"rule","stroke":"#b4b4b4","strokeDash":[2,2]}},
{"data":{"name":"months"},"mark":{"type":"text","align":"right","dx":-2},"encoding":{"text":{"field":"a"}}},
{"data":{"name":"months"},"mark":{"type":"text","align":"left","dx":2},"encoding":{"text":{"field":"b"}}},
{"data":{"values":[{"t":"-","i":261},{"t":"24.09.10","i":265.1}]},"mark":{"type":"text"},"encoding":{"text":{"field":"t"}}},
{"mark":{"type":"rule","stroke":"#b4b4b4"},"encoding":{"x":{"datum":259.8}}},
{"mark":{"type":"rule","stroke":"#b4b4b4"},"encoding":{"x":{"datum":263.2}}},
{"mark":{"type":"rule","stroke":"black","strokeWidth":2},"encoding":{"x":{"datum":-0.79}}},
{"mark":{"type":"rule","stroke":"black","strokeWidth":2},"encoding":{"x":{"datum":276.6}}},
{"data":{"values":[{"r":0,"i":-0.79,"i2":276.6},{"r":1,"i":-0.79,"i2":276.6}]},"mark":{"type":"rule","stroke":"black","strokeWidth":2},"encoding":{"y":{"field":"r","type":"quantitative","scale":{"domain":[0,1],"nice":false},"axis":null},"x2":{"field":"i2"}}}
]}
]
}
